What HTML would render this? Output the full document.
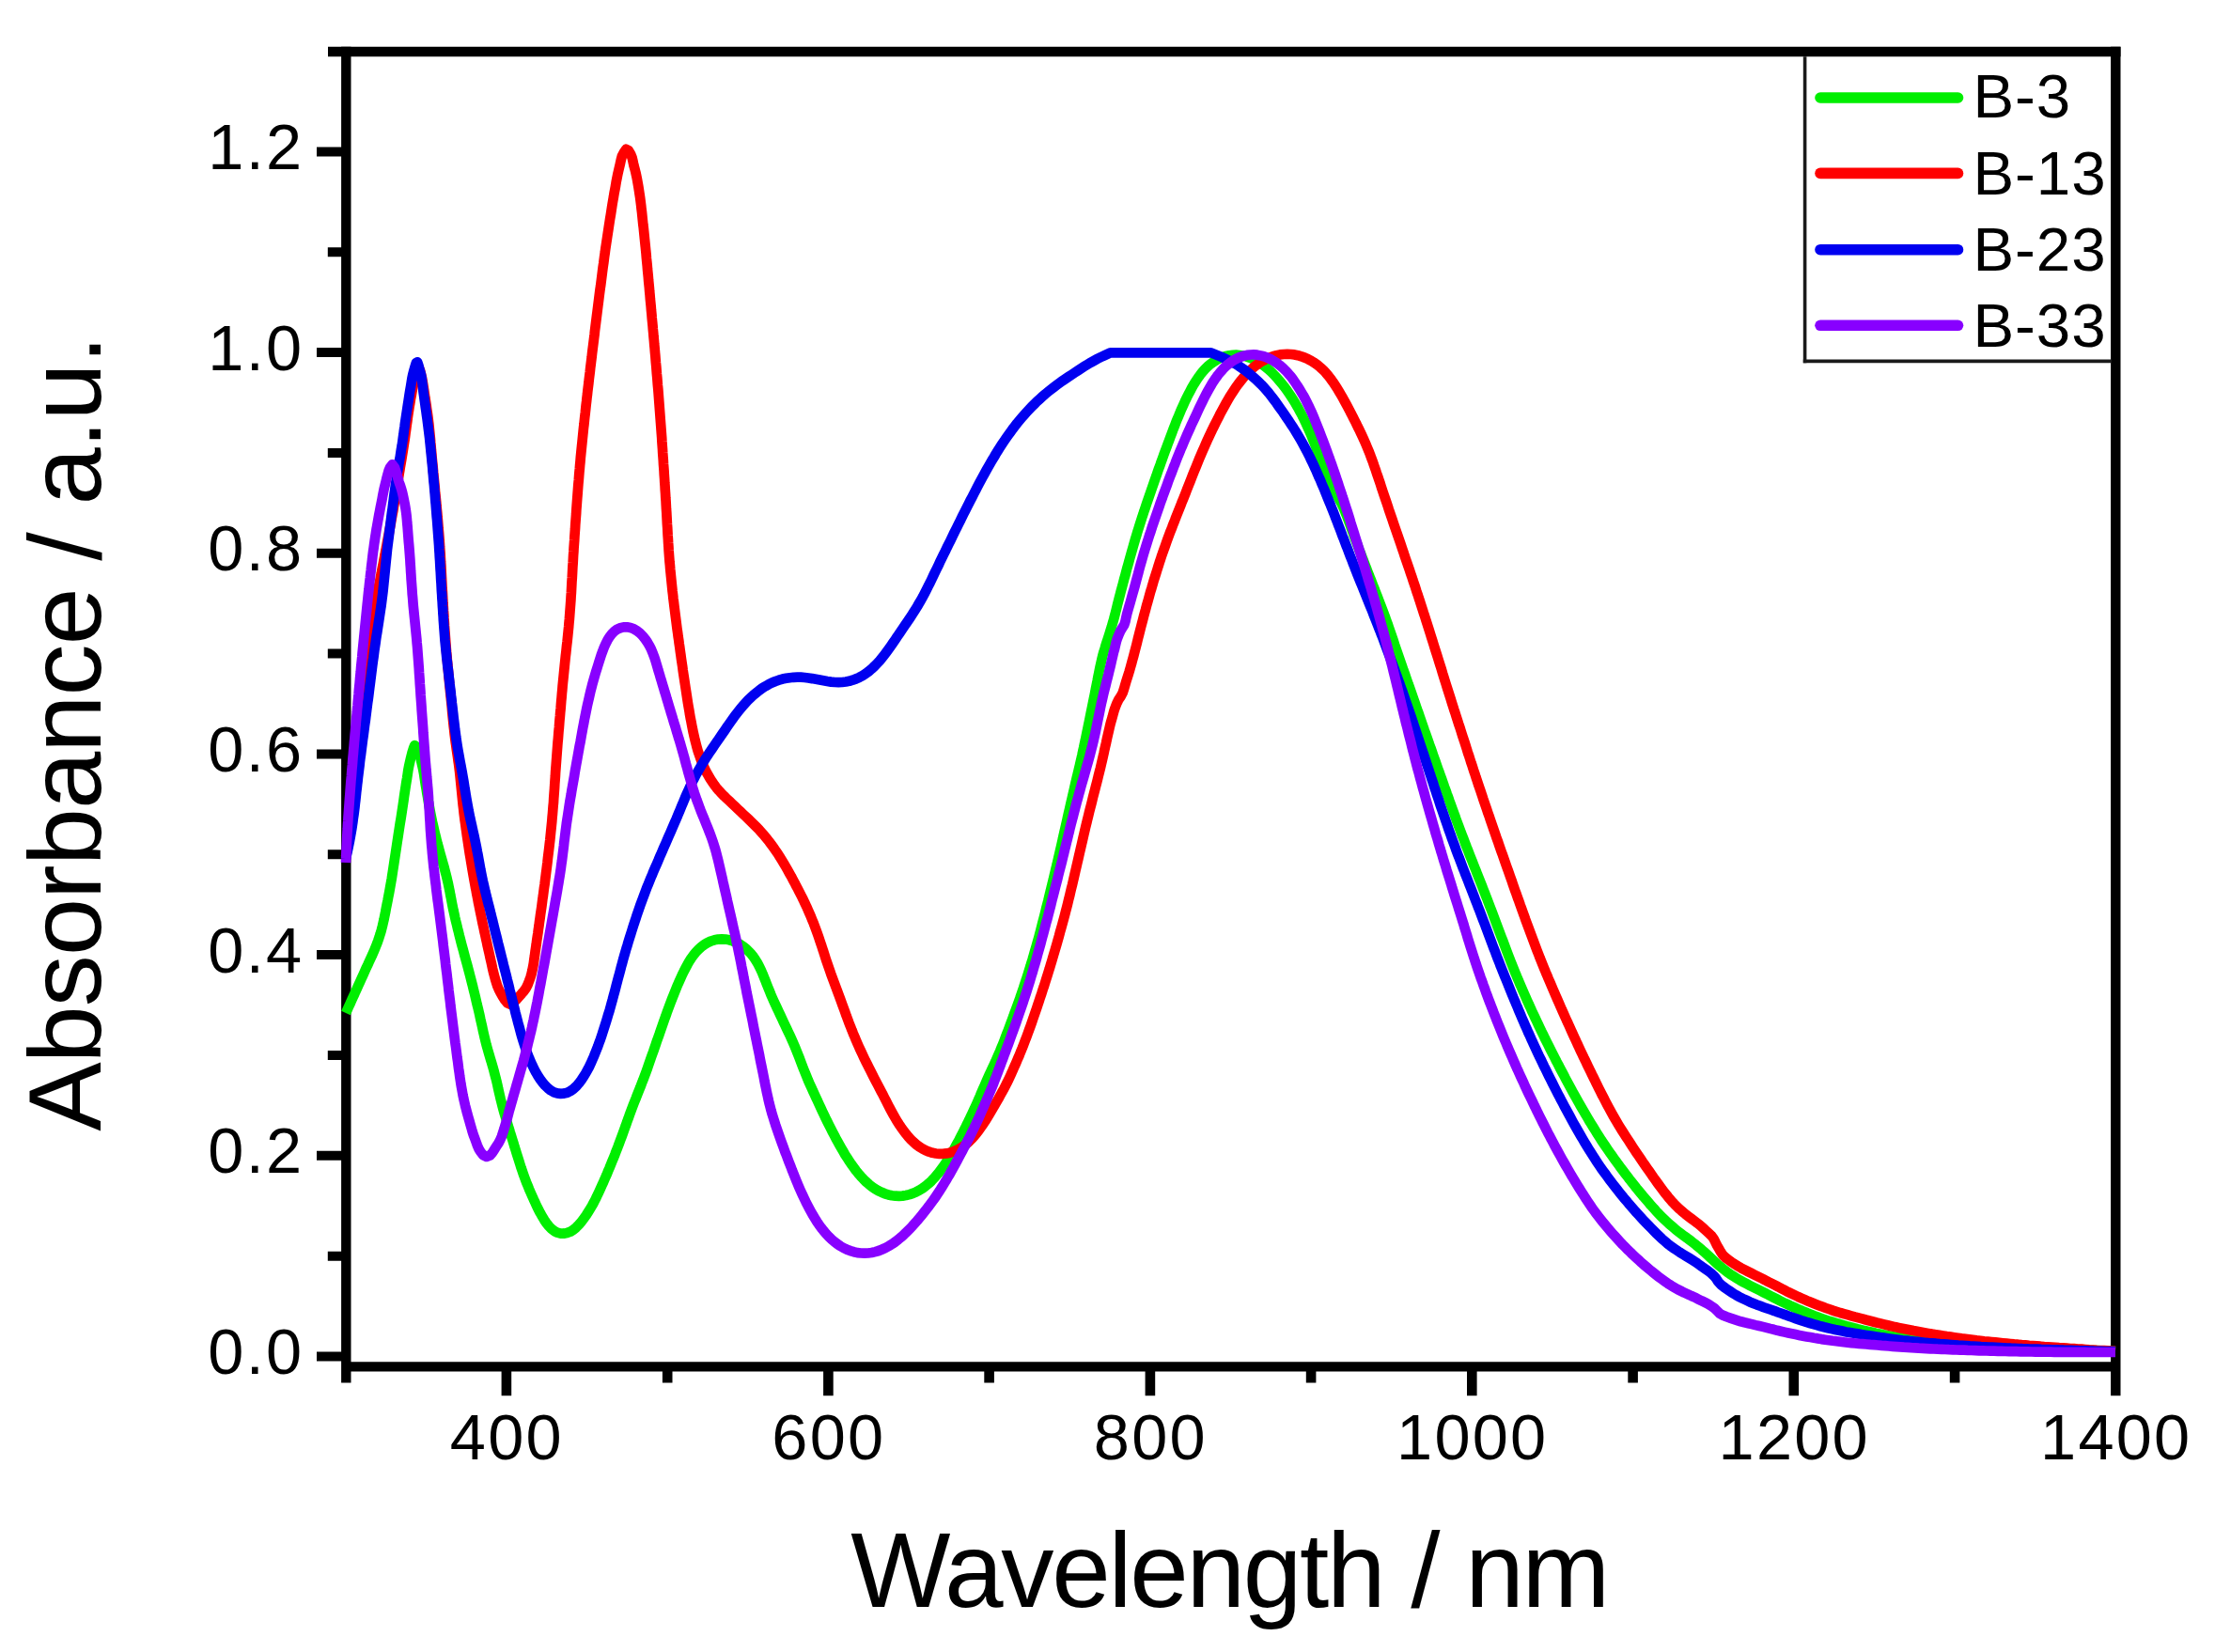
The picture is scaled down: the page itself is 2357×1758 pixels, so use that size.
<!DOCTYPE html>
<html lang="en"><head><meta charset="utf-8"><title>Absorbance spectra</title>
<style>html,body{margin:0;padding:0;background:#fff}svg{display:block}text{font-family:"Liberation Sans",Arial,Helvetica,sans-serif;fill:#000}</style></head><body>
<svg width="2357" height="1758" viewBox="0 0 2357 1758">
<rect width="2357" height="1758" fill="#fff"/>
<g stroke="#000" stroke-width="10.4" fill="none" stroke-linecap="butt">
<path d="M368.3 49.8 V1471.6"/>
<path d="M2251.3 49.8 V1485.3"/>
<path d="M349.0 55.0 H2256.5"/>
<path d="M368.3 1454.4 H2251.3"/>
<path d="M337.0 1443.5H368.3M348.8 1336.7H368.3M337.0 1229.8H368.3M348.8 1123.0H368.3M337.0 1016.1H368.3M348.8 909.3H368.3M337.0 802.5H368.3M348.8 695.6H368.3M337.0 588.8H368.3M348.8 481.9H368.3M337.0 375.1H368.3M348.8 268.3H368.3M337.0 161.4H368.3" stroke-width="10"/>
<path d="M538.9 1454.4V1485.3M710.2 1454.4V1471.6M881.4 1454.4V1485.3M1052.6 1454.4V1471.6M1223.9 1454.4V1485.3M1395.1 1454.4V1471.6M1566.3 1454.4V1485.3M1737.6 1454.4V1471.6M1908.8 1454.4V1485.3M2080.1 1454.4V1471.6" stroke-width="10.6"/>
</g>
<g fill="none" stroke-width="10.7" stroke-linejoin="round" stroke-linecap="butt">
<path stroke="#00ee00" d="M368.0 1078.0L369.7 1074.4L371.3 1070.7L373.0 1067.1L374.6 1063.4L376.3 1059.8L377.9 1056.1L379.6 1052.5L381.2 1048.9L382.9 1045.2L384.5 1041.6L386.2 1037.9L387.8 1034.3L389.5 1030.6L391.2 1027.0L392.8 1023.4L394.5 1019.7L396.2 1016.1L397.8 1012.4L399.3 1008.7L400.8 1005.0L402.2 1001.3L403.5 997.5L404.7 993.7L405.8 989.9L406.8 986.0L407.7 982.1L408.6 978.2L409.4 974.2L410.2 970.3L410.9 966.4L411.7 962.4L412.5 958.5L413.2 954.6L414.0 950.6L414.7 946.7L415.4 942.8L416.1 938.8L416.8 934.9L417.4 930.9L418.0 927.0L418.6 923.0L419.2 919.1L419.8 915.1L420.4 911.2L421.0 907.2L421.6 903.2L422.2 899.3L422.8 895.3L423.4 891.4L424.0 887.4L424.6 883.5L425.2 879.5L425.8 875.6L426.5 871.6L427.1 867.7L427.7 863.7L428.3 859.8L428.9 855.8L429.5 851.8L430.0 847.9L430.6 843.9L431.2 840.0L431.8 836.0L432.4 832.1L433.1 828.1L433.7 824.0L434.3 819.7L435.1 815.6L435.9 811.9L436.7 808.3L437.7 804.3L438.7 800.3L439.9 796.5L441.2 793.2L443.9 795.4L446.1 800.3L446.9 804.2L447.8 808.0L448.6 811.6L449.4 815.2L450.3 819.2L451.1 823.6L451.7 827.8L452.3 831.7L452.9 835.6L453.6 839.5L454.2 843.5L454.9 847.4L455.6 851.4L456.2 855.3L457.0 859.3L457.7 863.2L458.5 867.1L459.3 871.0L460.1 874.9L461.0 878.8L461.9 882.7L462.8 886.6L463.8 890.5L464.7 894.4L465.7 898.3L466.8 902.1L467.8 906.0L468.9 909.9L470.0 913.7L471.1 917.6L472.2 921.4L473.2 925.3L474.2 929.1L475.2 933.0L476.1 936.9L477.0 940.8L477.8 944.7L478.6 948.6L479.3 952.6L480.1 956.5L480.8 960.4L481.6 964.4L482.4 968.3L483.3 972.2L484.1 976.1L485.0 980.0L486.0 983.9L486.9 987.8L487.9 991.6L488.8 995.5L489.8 999.4L490.8 1003.3L491.8 1007.1L492.9 1011.0L493.9 1014.9L494.9 1018.7L496.0 1022.6L497.1 1026.5L498.1 1030.3L499.1 1034.2L500.1 1038.0L501.1 1041.9L502.1 1045.8L503.1 1049.7L504.0 1053.6L505.0 1057.5L505.9 1061.3L506.8 1065.2L507.7 1069.1L508.7 1073.0L509.6 1076.9L510.5 1080.8L511.3 1084.7L512.2 1088.6L513.1 1092.5L513.9 1096.5L514.8 1100.4L515.7 1104.3L516.6 1108.1L517.6 1112.0L518.7 1115.9L519.8 1119.7L520.9 1123.5L522.0 1127.4L523.2 1131.2L524.3 1135.0L525.4 1138.9L526.4 1142.8L527.4 1146.6L528.4 1150.5L529.3 1154.4L530.1 1158.3L531.0 1162.2L531.9 1166.1L532.8 1170.0L533.8 1173.9L534.8 1177.8L535.8 1181.6L536.9 1185.5L538.1 1189.3L539.2 1193.1L540.4 1197.0L541.6 1200.8L542.7 1204.6L543.9 1208.4L545.1 1212.3L546.3 1216.1L547.4 1219.9L548.6 1223.7L549.8 1227.6L551.0 1231.4L552.2 1235.2L553.4 1239.0L554.6 1242.8L555.9 1246.6L557.2 1250.4L558.6 1254.1L560.0 1257.9L561.5 1261.6L563.0 1265.3L564.6 1269.0L566.2 1272.6L567.8 1276.2L569.5 1279.8L571.1 1283.4L572.9 1287.0L574.8 1290.7L576.9 1294.4L579.1 1298.1L581.5 1301.6L584.1 1304.9L586.9 1307.8L589.9 1310.1L593.1 1311.7L596.5 1312.6L599.9 1312.7L603.3 1312.1L606.7 1310.8L609.9 1308.9L613.0 1306.3L616.0 1303.3L618.7 1300.1L621.3 1296.6L623.8 1293.2L626.0 1289.7L628.1 1286.3L630.1 1282.9L632.0 1279.4L633.8 1275.9L635.5 1272.3L637.2 1268.7L638.9 1265.0L640.5 1261.4L642.2 1257.7L643.8 1254.0L645.4 1250.4L646.9 1246.7L648.5 1243.0L650.0 1239.3L651.5 1235.6L653.0 1231.9L654.5 1228.2L655.9 1224.4L657.4 1220.7L658.8 1217.0L660.2 1213.2L661.6 1209.5L663.0 1205.7L664.3 1202.0L665.7 1198.2L667.0 1194.4L668.4 1190.7L669.7 1186.9L671.1 1183.1L672.5 1179.4L673.9 1175.7L675.4 1171.9L676.9 1168.2L678.3 1164.5L679.8 1160.8L681.3 1157.1L682.7 1153.3L684.2 1149.6L685.6 1145.9L687.0 1142.1L688.4 1138.4L689.7 1134.6L691.0 1130.8L692.3 1127.0L693.6 1123.3L695.0 1119.5L696.3 1115.7L697.6 1111.9L698.9 1108.1L700.2 1104.4L701.6 1100.6L702.9 1096.8L704.2 1093.0L705.5 1089.3L706.8 1085.5L708.2 1081.7L709.5 1077.9L710.9 1074.2L712.3 1070.4L713.7 1066.7L715.1 1063.0L716.6 1059.2L718.1 1055.5L719.6 1051.8L721.1 1048.1L722.7 1044.5L724.4 1040.8L726.0 1037.2L727.8 1033.5L729.6 1030.0L731.5 1026.4L733.5 1022.9L735.7 1019.5L738.0 1016.3L740.6 1013.1L743.4 1010.2L746.4 1007.5L749.6 1005.1L752.9 1003.1L756.5 1001.5L760.3 1000.3L764.1 999.6L768.1 999.4L772.0 999.6L776.0 1000.3L779.8 1001.4L783.6 1002.9L787.1 1004.8L790.5 1007.0L793.7 1009.5L796.7 1012.3L799.4 1015.2L801.9 1018.4L804.1 1021.7L806.2 1025.1L808.0 1028.7L809.8 1032.3L811.4 1036.0L812.9 1039.7L814.4 1043.4L815.8 1047.1L817.3 1050.9L818.8 1054.6L820.3 1058.3L821.9 1062.0L823.5 1065.6L825.2 1069.3L826.9 1072.9L828.6 1076.5L830.3 1080.1L832.0 1083.7L833.7 1087.4L835.4 1091.0L837.1 1094.6L838.8 1098.2L840.5 1101.8L842.2 1105.5L843.8 1109.1L845.4 1112.8L846.9 1116.5L848.4 1120.2L849.9 1123.9L851.3 1127.7L852.7 1131.4L854.1 1135.1L855.6 1138.9L857.1 1142.6L858.6 1146.3L860.1 1150.0L861.7 1153.6L863.4 1157.3L865.0 1160.9L866.7 1164.5L868.4 1168.2L870.1 1171.8L871.7 1175.4L873.4 1179.1L875.1 1182.7L876.8 1186.3L878.5 1189.9L880.3 1193.5L882.1 1197.1L883.9 1200.7L885.7 1204.2L887.6 1207.8L889.4 1211.3L891.4 1214.9L893.3 1218.4L895.3 1221.9L897.3 1225.3L899.3 1228.8L901.5 1232.2L903.7 1235.6L905.9 1238.9L908.3 1242.2L910.7 1245.5L913.3 1248.7L916.0 1251.8L918.7 1254.7L921.6 1257.6L924.7 1260.3L927.8 1262.8L931.1 1265.1L934.5 1267.1L938.0 1268.8L941.6 1270.3L945.3 1271.4L949.1 1272.2L952.8 1272.7L956.6 1272.8L960.4 1272.6L964.1 1272.0L967.9 1271.1L971.5 1269.9L975.1 1268.3L978.5 1266.5L981.9 1264.4L985.1 1262.0L988.2 1259.4L991.2 1256.7L994.0 1253.7L996.7 1250.6L999.3 1247.5L1001.7 1244.2L1004.1 1240.9L1006.4 1237.6L1008.5 1234.2L1010.7 1230.7L1012.7 1227.3L1014.7 1223.8L1016.6 1220.3L1018.6 1216.7L1020.5 1213.2L1022.3 1209.6L1024.2 1206.1L1026.0 1202.5L1027.8 1198.9L1029.5 1195.3L1031.3 1191.7L1033.0 1188.1L1034.7 1184.5L1036.4 1180.9L1038.1 1177.2L1039.7 1173.6L1041.3 1169.9L1042.9 1166.3L1044.4 1162.6L1046.0 1158.9L1047.6 1155.3L1049.2 1151.6L1050.8 1148.0L1052.4 1144.3L1054.1 1140.7L1055.8 1137.1L1057.5 1133.4L1059.2 1129.8L1060.8 1126.1L1062.4 1122.5L1064.0 1118.8L1065.5 1115.1L1067.0 1111.4L1068.5 1107.6L1069.9 1103.9L1071.3 1100.2L1072.8 1096.4L1074.2 1092.7L1075.6 1088.9L1077.0 1085.2L1078.4 1081.4L1079.7 1077.6L1081.1 1073.9L1082.5 1070.1L1083.8 1066.4L1085.2 1062.6L1086.5 1058.8L1087.8 1055.0L1089.1 1051.2L1090.3 1047.4L1091.6 1043.6L1092.8 1039.8L1094.0 1036.0L1095.2 1032.2L1096.4 1028.4L1097.5 1024.6L1098.7 1020.8L1099.8 1016.9L1100.9 1013.1L1102.0 1009.3L1103.1 1005.4L1104.2 1001.6L1105.3 997.7L1106.3 993.9L1107.3 990.0L1108.3 986.1L1109.3 982.2L1110.3 978.4L1111.3 974.5L1112.3 970.6L1113.2 966.7L1114.2 962.8L1115.2 959.0L1116.1 955.1L1117.1 951.2L1118.0 947.3L1119.0 943.4L1119.9 939.5L1120.9 935.7L1121.8 931.8L1122.7 927.9L1123.6 924.0L1124.6 920.1L1125.5 916.2L1126.4 912.3L1127.3 908.4L1128.2 904.5L1129.1 900.6L1130.0 896.7L1130.9 892.8L1131.7 888.9L1132.6 885.0L1133.5 881.1L1134.4 877.2L1135.3 873.3L1136.1 869.4L1137.0 865.5L1137.9 861.6L1138.8 857.7L1139.7 853.8L1140.6 849.9L1141.5 846.0L1142.4 842.1L1143.3 838.2L1144.2 834.3L1145.1 830.4L1146.0 826.5L1147.0 822.6L1147.9 818.7L1148.8 814.9L1149.7 811.0L1150.6 807.1L1151.5 803.2L1152.3 799.3L1153.2 795.4L1154.0 791.4L1154.9 787.5L1155.7 783.6L1156.5 779.7L1157.3 775.8L1158.1 771.9L1158.9 768.0L1159.7 764.0L1160.5 760.1L1161.3 756.2L1162.1 752.3L1162.9 748.4L1163.7 744.4L1164.5 740.5L1165.3 736.6L1166.0 732.7L1166.8 728.7L1167.6 724.8L1168.3 720.9L1169.1 717.0L1169.9 713.0L1170.7 709.1L1171.6 705.2L1172.5 701.3L1173.4 697.4L1174.5 693.6L1175.7 689.8L1176.8 685.9L1178.1 682.1L1179.3 678.3L1180.5 674.5L1181.7 670.7L1182.9 666.9L1184.0 663.0L1185.1 659.2L1186.1 655.3L1187.1 651.5L1188.1 647.6L1189.0 643.7L1190.0 639.8L1191.0 635.9L1192.0 632.1L1193.0 628.2L1194.1 624.3L1195.1 620.5L1196.1 616.6L1197.2 612.8L1198.2 608.9L1199.2 605.0L1200.3 601.2L1201.4 597.3L1202.4 593.5L1203.5 589.6L1204.6 585.8L1205.7 581.9L1206.8 578.1L1207.9 574.2L1209.1 570.4L1210.2 566.6L1211.4 562.7L1212.6 558.9L1213.8 555.1L1215.0 551.3L1216.3 547.5L1217.5 543.7L1218.8 539.9L1220.1 536.1L1221.4 532.3L1222.7 528.5L1224.0 524.8L1225.3 521.0L1226.6 517.2L1227.9 513.4L1229.2 509.7L1230.6 505.9L1231.9 502.1L1233.2 498.3L1234.6 494.6L1235.9 490.8L1237.3 487.0L1238.6 483.3L1240.0 479.5L1241.4 475.8L1242.8 472.0L1244.2 468.3L1245.6 464.5L1247.0 460.8L1248.4 457.0L1249.9 453.3L1251.3 449.5L1252.8 445.8L1254.4 442.1L1255.9 438.4L1257.5 434.7L1259.2 431.0L1260.8 427.4L1262.6 423.7L1264.4 420.0L1266.3 416.4L1268.2 412.7L1270.3 409.1L1272.5 405.6L1274.8 402.1L1277.2 398.8L1279.7 395.6L1282.4 392.6L1285.2 389.9L1288.2 387.3L1291.3 385.1L1294.5 383.1L1297.7 381.4L1301.1 380.0L1304.6 378.9L1308.1 378.2L1311.7 377.8L1315.3 377.7L1318.9 378.0L1322.5 378.5L1326.2 379.4L1329.8 380.6L1333.3 382.1L1336.8 383.9L1340.3 385.9L1343.6 388.2L1346.9 390.6L1350.0 393.3L1353.1 396.1L1356.0 399.1L1358.8 402.1L1361.5 405.3L1364.1 408.4L1366.7 411.6L1369.1 414.9L1371.4 418.2L1373.6 421.5L1375.8 424.9L1377.9 428.3L1379.9 431.7L1381.9 435.2L1383.8 438.8L1385.7 442.3L1387.5 445.9L1389.2 449.5L1390.9 453.2L1392.5 456.8L1394.1 460.5L1395.7 464.2L1397.2 467.9L1398.7 471.6L1400.2 475.3L1401.6 479.0L1403.1 482.8L1404.6 486.5L1406.0 490.2L1407.5 493.9L1408.9 497.6L1410.3 501.3L1411.7 505.1L1413.2 508.8L1414.8 512.4L1416.5 516.0L1418.3 519.5L1420.3 523.0L1422.3 526.5L1424.3 529.9L1426.2 533.4L1428.0 536.9L1429.7 540.5L1431.2 544.2L1432.7 547.9L1434.1 551.6L1435.5 555.4L1436.9 559.1L1438.2 562.9L1439.6 566.7L1440.9 570.4L1442.3 574.2L1443.7 577.9L1445.1 581.6L1446.5 585.4L1448.0 589.1L1449.4 592.8L1450.8 596.5L1452.2 600.2L1453.7 604.0L1455.1 607.7L1456.6 611.4L1458.0 615.1L1459.5 618.8L1460.9 622.5L1462.4 626.2L1463.8 630.0L1465.3 633.7L1466.7 637.4L1468.1 641.1L1469.6 644.9L1471.0 648.6L1472.4 652.4L1473.8 656.1L1475.1 659.9L1476.5 663.6L1477.8 667.4L1479.1 671.2L1480.4 675.0L1481.7 678.8L1483.0 682.6L1484.2 686.4L1485.5 690.2L1486.8 694.0L1488.1 697.8L1489.4 701.6L1490.7 705.3L1492.0 709.1L1493.3 712.9L1494.7 716.6L1496.0 720.4L1497.3 724.2L1498.6 728.0L1500.0 731.7L1501.3 735.5L1502.6 739.3L1503.9 743.0L1505.2 746.8L1506.5 750.6L1507.8 754.4L1509.2 758.1L1510.5 761.9L1511.8 765.7L1513.1 769.4L1514.4 773.2L1515.7 777.0L1517.1 780.8L1518.4 784.5L1519.7 788.3L1521.0 792.1L1522.4 795.8L1523.7 799.6L1525.0 803.4L1526.3 807.1L1527.7 810.9L1529.0 814.7L1530.3 818.4L1531.7 822.2L1533.0 826.0L1534.4 829.7L1535.7 833.5L1537.0 837.3L1538.4 841.0L1539.7 844.8L1541.1 848.5L1542.4 852.3L1543.8 856.1L1545.1 859.8L1546.5 863.6L1547.9 867.3L1549.2 871.1L1550.6 874.8L1552.0 878.6L1553.4 882.3L1554.8 886.1L1556.2 889.8L1557.7 893.5L1559.1 897.3L1560.5 901.0L1562.0 904.7L1563.4 908.5L1564.9 912.2L1566.4 915.9L1567.8 919.6L1569.3 923.4L1570.8 927.1L1572.2 930.8L1573.7 934.5L1575.2 938.2L1576.7 942.0L1578.1 945.7L1579.6 949.4L1581.0 953.1L1582.5 956.9L1583.9 960.6L1585.3 964.3L1586.8 968.1L1588.2 971.8L1589.6 975.6L1591.0 979.3L1592.4 983.1L1593.8 986.8L1595.2 990.6L1596.6 994.3L1598.0 998.1L1599.5 1001.8L1600.9 1005.6L1602.3 1009.3L1603.7 1013.1L1605.1 1016.8L1606.6 1020.6L1608.0 1024.3L1609.5 1028.0L1611.0 1031.7L1612.5 1035.4L1614.0 1039.1L1615.6 1042.8L1617.1 1046.5L1618.7 1050.1L1620.3 1053.8L1621.9 1057.5L1623.5 1061.1L1625.1 1064.8L1626.7 1068.4L1628.4 1072.0L1630.0 1075.7L1631.7 1079.3L1633.4 1082.9L1635.1 1086.5L1636.8 1090.1L1638.5 1093.7L1640.2 1097.3L1642.0 1100.9L1643.7 1104.5L1645.5 1108.1L1647.3 1111.7L1649.1 1115.2L1650.9 1118.8L1652.7 1122.4L1654.5 1125.9L1656.3 1129.5L1658.2 1133.0L1660.0 1136.6L1661.9 1140.1L1663.8 1143.6L1665.6 1147.2L1667.5 1150.7L1669.4 1154.2L1671.3 1157.7L1673.2 1161.3L1675.2 1164.8L1677.1 1168.3L1679.1 1171.8L1681.0 1175.3L1683.0 1178.7L1685.0 1182.2L1687.1 1185.7L1689.1 1189.1L1691.1 1192.6L1693.2 1196.0L1695.3 1199.4L1697.4 1202.8L1699.5 1206.2L1701.7 1209.6L1703.8 1213.0L1706.0 1216.3L1708.3 1219.6L1710.5 1222.9L1712.8 1226.2L1715.1 1229.4L1717.4 1232.7L1719.7 1235.9L1722.1 1239.1L1724.4 1242.3L1726.8 1245.5L1729.2 1248.7L1731.6 1251.8L1734.0 1255.0L1736.5 1258.1L1739.0 1261.3L1741.4 1264.4L1744.0 1267.5L1746.5 1270.5L1749.0 1273.6L1751.6 1276.6L1754.2 1279.6L1756.8 1282.7L1759.5 1285.6L1762.1 1288.6L1764.9 1291.5L1767.6 1294.4L1770.5 1297.2L1773.4 1299.9L1776.3 1302.6L1779.4 1305.2L1782.4 1307.8L1785.5 1310.3L1788.7 1312.8L1791.9 1315.2L1795.2 1317.5L1798.4 1319.9L1801.6 1322.4L1804.7 1324.8L1807.8 1327.4L1810.8 1329.9L1813.8 1332.6L1816.8 1335.3L1819.7 1338.0L1822.6 1340.7L1825.6 1343.4L1828.5 1346.1L1831.6 1348.7L1834.7 1351.2L1837.8 1353.6L1841.1 1355.9L1844.5 1358.1L1847.9 1360.2L1851.3 1362.3L1854.8 1364.2L1858.4 1366.1L1861.9 1367.9L1865.5 1369.7L1869.1 1371.5L1872.7 1373.3L1876.3 1375.1L1879.9 1376.9L1883.4 1378.8L1887.0 1380.6L1890.6 1382.4L1894.1 1384.2L1897.7 1386.0L1901.3 1387.7L1904.9 1389.4L1908.5 1391.0L1912.2 1392.7L1915.9 1394.2L1919.5 1395.8L1923.2 1397.3L1926.9 1398.7L1930.7 1400.2L1934.4 1401.5L1938.2 1402.9L1941.9 1404.2L1945.7 1405.5L1949.5 1406.7L1953.4 1407.9L1957.2 1409.0L1961.1 1410.1L1964.9 1411.2L1968.8 1412.2L1972.7 1413.2L1976.5 1414.2L1980.4 1415.1L1984.3 1416.1L1988.2 1416.9L1992.1 1417.8L1996.0 1418.7L1999.9 1419.5L2003.8 1420.3L2007.7 1421.0L2011.6 1421.7L2015.6 1422.4L2019.5 1423.1L2023.4 1423.8L2027.4 1424.4L2031.3 1425.0L2035.3 1425.5L2039.2 1426.1L2043.2 1426.6L2047.1 1427.1L2051.1 1427.5L2055.1 1427.9L2059.1 1428.4L2063.1 1428.8L2067.0 1429.1L2071.0 1429.5L2075.0 1429.8L2079.0 1430.1L2083.0 1430.4L2087.0 1430.7L2091.0 1431.0L2095.0 1431.2L2099.0 1431.4L2103.0 1431.7L2107.0 1431.9L2111.0 1432.1L2115.0 1432.3L2119.0 1432.5L2123.0 1432.7L2127.1 1432.8L2131.1 1433.0L2135.1 1433.2L2139.1 1433.4L2143.1 1433.5L2147.1 1433.7L2151.1 1433.9L2155.1 1434.0L2159.1 1434.2L2163.1 1434.4L2167.1 1434.6L2171.1 1434.7L2175.1 1434.9L2179.1 1435.1L2183.0 1435.2L2187.0 1435.4L2191.0 1435.6L2195.0 1435.8L2199.0 1435.9L2203.0 1436.1L2207.0 1436.2L2211.0 1436.4L2215.0 1436.6L2219.0 1436.7L2223.0 1436.9L2227.0 1437.1L2231.0 1437.2L2235.0 1437.4L2239.0 1437.5L2243.0 1437.7L2247.0 1437.8L2251.0 1438.0"/>
<path stroke="#ff0000" d="M368.0 912.0L368.7 908.1L369.3 904.1L369.9 900.1L370.6 896.2L371.2 892.2L371.7 888.3L372.3 884.3L372.8 880.4L373.3 876.4L373.8 872.4L374.2 868.4L374.6 864.5L375.0 860.5L375.4 856.5L375.8 852.5L376.2 848.5L376.6 844.5L376.9 840.6L377.3 836.6L377.7 832.6L378.1 828.6L378.4 824.6L378.8 820.7L379.2 816.7L379.6 812.7L380.0 808.7L380.4 804.7L380.9 800.8L381.3 796.8L381.7 792.8L382.1 788.8L382.6 784.8L383.0 780.9L383.4 776.9L383.8 772.9L384.2 768.9L384.7 765.0L385.1 761.0L385.5 757.0L386.0 753.0L386.4 749.0L386.8 745.1L387.3 741.1L387.7 737.1L388.1 733.1L388.6 729.2L389.0 725.2L389.5 721.2L389.9 717.2L390.4 713.3L390.8 709.3L391.3 705.3L391.8 701.3L392.2 697.4L392.7 693.4L393.2 689.4L393.6 685.4L394.1 681.5L394.6 677.5L395.1 673.5L395.6 669.6L396.2 665.6L396.7 661.6L397.3 657.7L397.9 653.7L398.5 649.8L399.2 645.8L399.8 641.9L400.5 637.9L401.2 634.0L401.9 630.1L402.7 626.1L403.4 622.2L404.2 618.3L404.9 614.3L405.7 610.4L406.4 606.5L407.2 602.6L408.0 598.6L408.7 594.7L409.5 590.8L410.2 586.8L411.0 582.9L411.7 579.0L412.4 575.0L413.2 571.1L413.9 567.2L414.6 563.2L415.4 559.3L416.1 555.4L416.8 551.4L417.5 547.5L418.3 543.6L418.9 539.6L419.6 535.7L420.3 531.7L420.9 527.8L421.6 523.8L422.2 519.9L422.8 515.9L423.5 512.0L424.1 508.0L424.7 504.1L425.4 500.1L426.0 496.2L426.7 492.3L427.4 488.3L428.0 484.4L428.7 480.4L429.3 476.5L429.9 472.5L430.5 468.6L431.1 464.6L431.6 460.6L432.2 456.7L432.7 452.7L433.3 448.8L433.8 444.8L434.4 440.8L435.0 436.9L435.6 432.9L436.3 429.0L436.9 425.1L437.7 421.0L438.4 416.9L439.1 413.0L439.9 409.3L440.7 405.4L441.7 401.5L442.9 397.5L444.3 393.0L445.6 391.0L447.1 394.5L448.3 399.4L449.2 403.3L449.9 407.3L450.5 411.1L451.1 414.9L451.7 418.9L452.3 423.0L453.0 427.1L453.6 431.0L454.1 434.9L454.7 438.9L455.3 442.8L455.8 446.8L456.3 450.8L456.7 454.7L457.1 458.7L457.5 462.7L457.9 466.7L458.2 470.7L458.6 474.7L458.9 478.6L459.3 482.6L459.6 486.6L460.0 490.6L460.4 494.6L460.8 498.6L461.1 502.5L461.5 506.5L461.9 510.5L462.3 514.5L462.7 518.5L463.0 522.5L463.4 526.4L463.8 530.4L464.2 534.4L464.5 538.4L464.9 542.4L465.3 546.4L465.6 550.3L466.0 554.3L466.3 558.3L466.6 562.3L467.0 566.3L467.3 570.3L467.6 574.3L467.9 578.3L468.1 582.2L468.4 586.2L468.7 590.2L468.9 594.2L469.1 598.2L469.4 602.2L469.6 606.2L469.8 610.2L470.0 614.2L470.2 618.2L470.4 622.2L470.6 626.2L470.9 630.2L471.1 634.2L471.3 638.2L471.5 642.2L471.8 646.2L472.0 650.1L472.3 654.1L472.5 658.1L472.8 662.1L473.0 666.1L473.3 670.1L473.6 674.1L473.9 678.1L474.2 682.1L474.5 686.1L474.8 690.1L475.1 694.0L475.5 698.0L475.8 702.0L476.2 706.0L476.6 710.0L477.0 714.0L477.3 717.9L477.7 721.9L478.1 725.9L478.5 729.9L478.9 733.9L479.3 737.9L479.7 741.8L480.1 745.8L480.5 749.8L480.9 753.8L481.2 757.8L481.6 761.7L482.0 765.7L482.4 769.7L482.8 773.7L483.3 777.7L483.7 781.6L484.2 785.6L484.7 789.6L485.3 793.5L485.8 797.5L486.4 801.5L487.0 805.4L487.5 809.4L488.1 813.3L488.6 817.3L489.1 821.3L489.5 825.2L489.9 829.2L490.3 833.2L490.7 837.2L491.1 841.2L491.5 845.2L491.9 849.1L492.3 853.1L492.7 857.1L493.2 861.1L493.6 865.0L494.1 869.0L494.6 873.0L495.2 876.9L495.7 880.9L496.3 884.9L496.8 888.8L497.4 892.8L498.0 896.7L498.6 900.7L499.2 904.7L499.8 908.6L500.5 912.6L501.1 916.5L501.8 920.5L502.4 924.4L503.1 928.3L503.8 932.3L504.5 936.2L505.2 940.2L505.9 944.1L506.7 948.0L507.4 952.0L508.2 955.9L508.9 959.8L509.7 963.7L510.5 967.7L511.3 971.6L512.1 975.5L512.9 979.4L513.7 983.3L514.6 987.2L515.4 991.2L516.3 995.1L517.1 999.0L518.0 1002.9L518.8 1006.8L519.7 1010.7L520.6 1014.6L521.4 1018.5L522.3 1022.4L523.2 1026.3L524.0 1030.2L524.9 1034.1L525.9 1038.0L527.0 1042.0L528.2 1046.1L529.5 1049.9L531.0 1053.3L532.7 1056.7L534.8 1060.4L537.3 1064.3L540.0 1067.4L542.9 1068.8L546.0 1067.4L549.2 1064.1L552.2 1060.7L555.0 1057.6L557.5 1054.7L559.7 1051.6L561.5 1048.0L563.0 1044.1L564.4 1040.2L565.5 1036.4L566.4 1032.6L567.2 1028.7L567.9 1024.7L568.4 1020.8L569.0 1016.8L569.5 1012.8L570.1 1008.8L570.7 1004.9L571.2 1000.9L571.8 996.9L572.4 993.0L572.9 989.0L573.5 985.1L574.0 981.1L574.6 977.1L575.1 973.2L575.7 969.2L576.3 965.2L576.8 961.3L577.3 957.3L577.9 953.4L578.4 949.4L578.9 945.4L579.5 941.5L580.0 937.5L580.5 933.5L581.0 929.5L581.5 925.6L582.0 921.6L582.5 917.6L582.9 913.7L583.4 909.7L583.9 905.7L584.4 901.7L584.8 897.8L585.3 893.8L585.7 889.8L586.1 885.8L586.5 881.9L586.9 877.9L587.3 873.9L587.6 869.9L588.0 865.9L588.3 861.9L588.6 858.0L589.0 854.0L589.2 850.0L589.5 846.0L589.8 842.0L590.1 838.0L590.3 834.0L590.6 830.0L590.9 826.0L591.1 822.0L591.4 818.0L591.7 814.1L592.0 810.1L592.3 806.1L592.6 802.1L592.9 798.1L593.2 794.1L593.5 790.1L593.9 786.1L594.2 782.1L594.5 778.2L594.9 774.2L595.2 770.2L595.5 766.2L595.9 762.2L596.2 758.2L596.6 754.2L596.9 750.3L597.2 746.3L597.6 742.3L597.9 738.3L598.3 734.3L598.6 730.3L599.0 726.3L599.4 722.4L599.8 718.4L600.2 714.4L600.6 710.4L601.0 706.4L601.4 702.5L601.8 698.5L602.3 694.5L602.7 690.5L603.1 686.6L603.6 682.6L604.0 678.6L604.4 674.6L604.8 670.6L605.2 666.7L605.5 662.7L605.9 658.7L606.2 654.7L606.5 650.7L606.8 646.7L607.1 642.7L607.4 638.7L607.6 634.7L607.9 630.8L608.1 626.8L608.3 622.8L608.5 618.8L608.8 614.8L609.0 610.8L609.2 606.8L609.4 602.8L609.7 598.8L609.9 594.8L610.1 590.8L610.4 586.8L610.6 582.8L610.9 578.8L611.2 574.8L611.4 570.9L611.7 566.9L612.0 562.9L612.2 558.9L612.5 554.9L612.8 550.9L613.1 546.9L613.3 542.9L613.6 538.9L613.9 534.9L614.2 530.9L614.5 527.0L614.8 523.0L615.1 519.0L615.4 515.0L615.8 511.0L616.1 507.0L616.4 503.0L616.8 499.0L617.1 495.1L617.5 491.1L617.8 487.1L618.2 483.1L618.6 479.1L619.0 475.1L619.4 471.2L619.8 467.2L620.2 463.2L620.6 459.2L621.0 455.2L621.5 451.3L621.9 447.3L622.3 443.3L622.8 439.3L623.2 435.4L623.6 431.4L624.1 427.4L624.5 423.4L625.0 419.5L625.4 415.5L625.9 411.5L626.4 407.5L626.8 403.6L627.3 399.6L627.8 395.6L628.2 391.6L628.7 387.7L629.2 383.7L629.7 379.7L630.1 375.7L630.6 371.8L631.1 367.8L631.6 363.8L632.1 359.9L632.6 355.9L633.0 351.9L633.5 348.0L634.0 344.0L634.5 340.0L635.0 336.0L635.5 332.1L636.0 328.1L636.5 324.1L637.0 320.2L637.5 316.2L638.0 312.2L638.5 308.3L639.1 304.3L639.6 300.3L640.1 296.4L640.6 292.4L641.1 288.4L641.6 284.5L642.2 280.5L642.7 276.5L643.2 272.6L643.8 268.6L644.3 264.6L644.9 260.7L645.5 256.7L646.1 252.8L646.7 248.8L647.3 244.9L647.9 240.9L648.5 237.0L649.1 233.0L649.8 229.0L650.4 225.1L651.0 221.1L651.6 217.2L652.3 213.2L653.0 209.3L653.6 205.4L654.4 201.4L655.1 197.5L655.7 193.6L656.5 189.6L657.3 185.5L658.2 181.6L659.1 177.8L660.0 174.0L660.8 170.1L661.8 166.3L663.8 162.5L666.2 158.8L668.7 160.0L671.1 164.0L672.6 167.8L673.5 171.6L674.3 175.5L675.3 179.2L676.3 183.0L677.2 187.0L678.0 191.1L678.7 195.0L679.4 199.0L680.0 202.9L680.6 206.9L681.2 210.8L681.7 214.8L682.2 218.8L682.6 222.7L683.1 226.7L683.5 230.7L683.9 234.7L684.3 238.7L684.8 242.6L685.2 246.6L685.6 250.6L686.0 254.6L686.4 258.6L686.8 262.5L687.2 266.5L687.6 270.5L687.9 274.5L688.3 278.5L688.7 282.4L689.0 286.4L689.4 290.4L689.8 294.4L690.1 298.4L690.5 302.4L690.9 306.3L691.2 310.3L691.6 314.3L691.9 318.3L692.3 322.3L692.7 326.3L693.0 330.3L693.4 334.2L693.7 338.2L694.1 342.2L694.5 346.2L694.8 350.2L695.2 354.2L695.5 358.1L695.9 362.1L696.2 366.1L696.6 370.1L696.9 374.1L697.3 378.1L697.6 382.1L697.9 386.0L698.3 390.0L698.6 394.0L698.9 398.0L699.3 402.0L699.6 406.0L699.9 410.0L700.3 414.0L700.6 417.9L700.9 421.9L701.2 425.9L701.5 429.9L701.8 433.9L702.1 437.9L702.4 441.9L702.7 445.9L703.0 449.8L703.3 453.8L703.6 457.8L703.9 461.8L704.2 465.8L704.4 469.8L704.7 473.8L705.0 477.8L705.2 481.8L705.5 485.8L705.8 489.8L706.0 493.8L706.3 497.7L706.6 501.7L706.8 505.7L707.1 509.7L707.3 513.7L707.6 517.7L707.8 521.7L708.1 525.7L708.3 529.7L708.6 533.7L708.8 537.7L709.0 541.7L709.3 545.7L709.5 549.7L709.7 553.6L709.9 557.6L710.2 561.6L710.4 565.6L710.6 569.6L710.9 573.6L711.1 577.6L711.4 581.6L711.6 585.6L711.9 589.6L712.2 593.6L712.5 597.6L712.9 601.5L713.2 605.5L713.6 609.5L714.0 613.5L714.4 617.5L714.8 621.5L715.2 625.4L715.6 629.4L716.1 633.4L716.5 637.4L717.0 641.3L717.5 645.3L718.0 649.3L718.5 653.3L719.0 657.2L719.5 661.2L720.0 665.2L720.5 669.1L721.1 673.1L721.6 677.1L722.2 681.0L722.7 685.0L723.3 688.9L723.8 692.9L724.4 696.9L724.9 700.8L725.5 704.8L726.1 708.7L726.6 712.7L727.2 716.7L727.8 720.6L728.4 724.6L729.0 728.5L729.6 732.5L730.2 736.4L730.8 740.4L731.4 744.4L732.0 748.3L732.7 752.3L733.4 756.2L734.0 760.1L734.7 764.1L735.5 768.0L736.2 771.9L737.0 775.9L737.8 779.8L738.7 783.7L739.6 787.6L740.6 791.5L741.6 795.3L742.7 799.2L744.0 803.0L745.3 806.8L746.7 810.5L748.2 814.2L749.9 817.9L751.6 821.5L753.6 825.0L755.6 828.5L757.8 831.9L760.1 835.2L762.5 838.4L765.1 841.4L767.8 844.3L770.6 847.2L773.5 850.0L776.4 852.7L779.3 855.5L782.2 858.2L785.1 861.0L788.0 863.7L790.9 866.5L793.8 869.2L796.8 872.0L799.7 874.8L802.5 877.6L805.3 880.4L808.1 883.3L810.8 886.3L813.4 889.3L815.9 892.4L818.4 895.5L820.8 898.7L823.1 901.9L825.4 905.2L827.7 908.5L829.8 911.8L831.9 915.2L834.0 918.7L836.0 922.1L838.0 925.6L839.9 929.1L841.9 932.6L843.8 936.2L845.7 939.7L847.5 943.3L849.4 946.8L851.2 950.4L853.0 953.9L854.8 957.5L856.5 961.1L858.2 964.7L859.8 968.4L861.4 972.0L863.0 975.7L864.5 979.4L866.0 983.1L867.4 986.8L868.8 990.6L870.1 994.3L871.4 998.1L872.7 1001.9L874.0 1005.7L875.2 1009.5L876.5 1013.3L877.7 1017.1L878.9 1021.0L880.2 1024.8L881.5 1028.6L882.8 1032.3L884.1 1036.1L885.5 1039.9L886.9 1043.6L888.3 1047.4L889.7 1051.1L891.1 1054.9L892.5 1058.6L893.9 1062.4L895.2 1066.1L896.6 1069.9L898.0 1073.6L899.4 1077.4L900.7 1081.2L902.1 1084.9L903.5 1088.7L905.0 1092.4L906.4 1096.1L907.9 1099.8L909.5 1103.5L911.0 1107.2L912.6 1110.8L914.2 1114.5L915.9 1118.1L917.6 1121.7L919.3 1125.4L921.0 1129.0L922.8 1132.5L924.6 1136.1L926.4 1139.7L928.2 1143.2L930.0 1146.8L931.9 1150.4L933.7 1153.9L935.6 1157.5L937.4 1161.0L939.3 1164.6L941.1 1168.1L943.0 1171.7L944.8 1175.3L946.6 1178.9L948.5 1182.4L950.4 1185.9L952.4 1189.4L954.5 1192.9L956.7 1196.4L959.0 1199.8L961.4 1203.1L963.9 1206.4L966.5 1209.6L969.2 1212.6L972.1 1215.4L975.2 1218.1L978.3 1220.4L981.7 1222.5L985.1 1224.3L988.6 1225.7L992.2 1226.8L995.9 1227.5L999.6 1227.9L1003.3 1227.8L1007.0 1227.4L1010.7 1226.7L1014.3 1225.5L1017.9 1224.1L1021.3 1222.2L1024.7 1220.1L1027.9 1217.6L1031.0 1214.9L1034.0 1212.0L1036.7 1208.9L1039.3 1205.8L1041.8 1202.5L1044.1 1199.2L1046.4 1195.9L1048.6 1192.5L1050.7 1189.1L1052.8 1185.7L1054.8 1182.3L1056.7 1179.0L1058.7 1175.7L1060.6 1172.4L1062.5 1169.1L1064.3 1165.8L1066.1 1162.5L1068.0 1159.2L1069.7 1155.8L1071.5 1152.3L1073.2 1148.8L1074.9 1145.2L1076.6 1141.5L1078.2 1137.8L1079.9 1134.1L1081.5 1130.3L1083.1 1126.5L1084.8 1122.7L1086.3 1118.8L1087.9 1115.0L1089.4 1111.1L1090.9 1107.2L1092.4 1103.3L1093.8 1099.5L1095.2 1095.6L1096.6 1091.8L1098.0 1087.9L1099.3 1084.1L1100.6 1080.3L1101.9 1076.5L1103.2 1072.7L1104.5 1068.8L1105.8 1065.0L1107.0 1061.2L1108.3 1057.4L1109.5 1053.6L1110.8 1049.8L1112.0 1046.0L1113.2 1042.2L1114.4 1038.4L1115.6 1034.5L1116.8 1030.7L1117.9 1026.9L1119.1 1023.1L1120.2 1019.2L1121.3 1015.4L1122.5 1011.5L1123.6 1007.7L1124.7 1003.9L1125.8 1000.0L1126.9 996.2L1127.9 992.3L1129.0 988.5L1130.1 984.6L1131.1 980.8L1132.2 976.9L1133.2 973.1L1134.2 969.2L1135.2 965.3L1136.2 961.4L1137.1 957.6L1138.1 953.7L1139.0 949.8L1139.9 945.9L1140.9 942.0L1141.8 938.1L1142.7 934.2L1143.6 930.3L1144.5 926.4L1145.4 922.5L1146.3 918.6L1147.2 914.7L1148.1 910.8L1149.0 906.9L1149.9 903.0L1150.8 899.1L1151.7 895.2L1152.6 891.3L1153.5 887.4L1154.4 883.5L1155.3 879.6L1156.3 875.7L1157.2 871.8L1158.2 867.9L1159.1 864.1L1160.1 860.2L1161.1 856.3L1162.1 852.4L1163.0 848.6L1164.0 844.7L1165.0 840.8L1166.0 836.9L1167.0 833.1L1168.0 829.2L1168.9 825.3L1169.9 821.4L1170.9 817.5L1171.8 813.6L1172.7 809.7L1173.6 805.8L1174.5 801.9L1175.3 798.0L1176.2 794.1L1177.1 790.2L1177.9 786.3L1178.8 782.4L1179.7 778.5L1180.6 774.6L1181.5 770.7L1182.6 766.8L1183.7 763.0L1184.7 759.2L1185.8 755.3L1187.2 751.5L1188.7 747.8L1190.5 744.2L1192.8 740.9L1194.6 737.4L1195.9 733.6L1197.0 729.7L1198.1 725.9L1199.3 722.1L1200.5 718.3L1201.7 714.5L1202.8 710.6L1203.9 706.8L1204.9 702.9L1206.0 699.1L1207.0 695.2L1208.0 691.4L1209.0 687.5L1210.0 683.6L1210.9 679.7L1211.9 675.8L1212.9 671.9L1213.9 668.0L1214.9 664.2L1215.9 660.3L1216.9 656.4L1217.9 652.6L1219.0 648.7L1220.0 644.8L1221.1 641.0L1222.2 637.1L1223.2 633.3L1224.3 629.4L1225.5 625.6L1226.6 621.8L1227.7 617.9L1228.9 614.1L1230.1 610.3L1231.3 606.5L1232.5 602.6L1233.7 598.8L1235.0 595.0L1236.2 591.2L1237.5 587.5L1238.9 583.7L1240.2 579.9L1241.5 576.2L1242.9 572.4L1244.3 568.7L1245.7 564.9L1247.2 561.2L1248.6 557.4L1250.1 553.7L1251.5 550.0L1253.0 546.3L1254.5 542.5L1256.0 538.8L1257.4 535.1L1258.9 531.4L1260.4 527.7L1261.9 524.0L1263.3 520.2L1264.8 516.5L1266.3 512.8L1267.7 509.1L1269.2 505.3L1270.7 501.6L1272.2 497.9L1273.7 494.2L1275.2 490.5L1276.7 486.8L1278.3 483.1L1279.9 479.4L1281.5 475.8L1283.1 472.1L1284.7 468.5L1286.4 464.9L1288.1 461.2L1289.8 457.6L1291.6 454.0L1293.4 450.4L1295.2 446.9L1297.0 443.3L1298.8 439.7L1300.7 436.2L1302.7 432.6L1304.6 429.1L1306.6 425.6L1308.7 422.1L1310.8 418.7L1313.1 415.3L1315.3 411.9L1317.7 408.6L1320.2 405.4L1322.7 402.3L1325.4 399.2L1328.2 396.3L1331.1 393.5L1334.1 390.8L1337.3 388.3L1340.5 386.0L1343.9 384.0L1347.4 382.1L1351.0 380.5L1354.6 379.2L1358.4 378.2L1362.1 377.4L1365.9 377.0L1369.8 376.8L1373.6 377.0L1377.4 377.4L1381.1 378.2L1384.8 379.3L1388.4 380.6L1391.9 382.2L1395.3 384.0L1398.7 386.1L1401.9 388.4L1405.0 391.0L1408.0 393.7L1410.8 396.7L1413.4 399.8L1415.9 403.0L1418.3 406.3L1420.6 409.7L1422.8 413.1L1424.8 416.5L1426.8 419.9L1428.7 423.2L1430.6 426.6L1432.4 429.9L1434.2 433.3L1436.0 436.7L1437.7 440.1L1439.5 443.5L1441.2 446.9L1443.0 450.4L1444.7 454.0L1446.5 457.5L1448.2 461.1L1449.9 464.8L1451.6 468.5L1453.2 472.2L1454.8 476.0L1456.4 479.8L1457.9 483.6L1459.3 487.5L1460.8 491.4L1462.1 495.3L1463.5 499.2L1464.8 503.2L1466.2 507.1L1467.5 510.9L1468.8 514.8L1470.0 518.7L1471.3 522.6L1472.6 526.4L1473.9 530.2L1475.2 534.0L1476.5 537.9L1477.7 541.7L1479.0 545.5L1480.3 549.3L1481.6 553.1L1482.9 556.9L1484.2 560.7L1485.5 564.4L1486.8 568.2L1488.1 572.0L1489.4 575.8L1490.7 579.6L1492.0 583.4L1493.3 587.2L1494.5 591.0L1495.8 594.7L1497.1 598.5L1498.4 602.3L1499.7 606.1L1501.0 609.9L1502.3 613.7L1503.5 617.5L1504.8 621.3L1506.1 625.1L1507.3 628.9L1508.6 632.7L1509.8 636.5L1511.1 640.3L1512.3 644.1L1513.5 647.9L1514.7 651.7L1516.0 655.5L1517.2 659.3L1518.4 663.1L1519.6 666.9L1520.8 670.7L1522.0 674.5L1523.2 678.4L1524.4 682.2L1525.6 686.0L1526.8 689.8L1528.0 693.6L1529.2 697.4L1530.4 701.3L1531.6 705.1L1532.8 708.9L1534.0 712.7L1535.1 716.5L1536.3 720.3L1537.5 724.2L1538.7 728.0L1539.9 731.8L1541.1 735.6L1542.3 739.4L1543.5 743.2L1544.7 747.1L1545.9 750.9L1547.1 754.7L1548.4 758.5L1549.6 762.3L1550.8 766.1L1552.0 769.9L1553.3 773.7L1554.5 777.5L1555.7 781.3L1556.9 785.1L1558.2 788.9L1559.4 792.7L1560.6 796.5L1561.8 800.4L1563.1 804.2L1564.3 808.0L1565.5 811.8L1566.8 815.6L1568.0 819.4L1569.3 823.2L1570.5 827.0L1571.8 830.8L1573.0 834.5L1574.3 838.3L1575.6 842.1L1576.9 845.9L1578.1 849.7L1579.4 853.5L1580.7 857.3L1582.0 861.1L1583.3 864.9L1584.6 868.6L1585.9 872.4L1587.2 876.2L1588.5 880.0L1589.8 883.8L1591.1 887.5L1592.4 891.3L1593.8 895.1L1595.1 898.9L1596.4 902.7L1597.7 906.4L1599.1 910.2L1600.4 914.0L1601.7 917.8L1603.0 921.5L1604.4 925.3L1605.7 929.1L1607.0 932.8L1608.4 936.6L1609.7 940.4L1611.0 944.2L1612.3 947.9L1613.7 951.7L1615.0 955.5L1616.4 959.2L1617.7 963.0L1619.1 966.8L1620.4 970.5L1621.8 974.3L1623.1 978.1L1624.5 981.8L1625.9 985.6L1627.3 989.3L1628.7 993.1L1630.1 996.8L1631.5 1000.6L1632.9 1004.3L1634.3 1008.1L1635.7 1011.8L1637.2 1015.6L1638.6 1019.3L1640.1 1023.0L1641.6 1026.7L1643.1 1030.4L1644.6 1034.1L1646.2 1037.8L1647.7 1041.5L1649.3 1045.2L1650.9 1048.9L1652.4 1052.5L1654.0 1056.2L1655.6 1059.9L1657.2 1063.5L1658.8 1067.2L1660.4 1070.8L1662.0 1074.5L1663.7 1078.2L1665.3 1081.8L1666.9 1085.5L1668.6 1089.1L1670.2 1092.7L1671.9 1096.4L1673.5 1100.0L1675.2 1103.7L1676.9 1107.3L1678.5 1110.9L1680.2 1114.5L1681.9 1118.2L1683.6 1121.8L1685.3 1125.4L1687.1 1129.0L1688.8 1132.6L1690.5 1136.2L1692.3 1139.8L1694.0 1143.4L1695.8 1147.0L1697.6 1150.6L1699.3 1154.2L1701.1 1157.8L1702.9 1161.4L1704.7 1165.0L1706.6 1168.6L1708.4 1172.1L1710.3 1175.7L1712.2 1179.2L1714.1 1182.8L1716.0 1186.3L1718.0 1189.7L1720.0 1193.2L1722.0 1196.6L1724.1 1200.0L1726.2 1203.4L1728.3 1206.7L1730.5 1210.1L1732.7 1213.4L1734.8 1216.7L1737.0 1220.1L1739.2 1223.4L1741.4 1226.7L1743.7 1230.0L1745.9 1233.3L1748.1 1236.6L1750.4 1239.9L1752.7 1243.2L1755.0 1246.4L1757.3 1249.7L1759.5 1253.0L1761.8 1256.2L1764.2 1259.5L1766.5 1262.7L1768.9 1265.9L1771.3 1269.1L1773.8 1272.2L1776.3 1275.3L1778.9 1278.3L1781.6 1281.2L1784.4 1284.0L1787.3 1286.8L1790.3 1289.4L1793.4 1292.0L1796.6 1294.5L1799.8 1296.9L1803.0 1299.3L1806.2 1301.7L1809.3 1304.2L1812.4 1306.8L1815.2 1309.5L1818.1 1312.2L1821.1 1314.9L1823.5 1318.1L1825.3 1321.7L1827.0 1325.3L1829.1 1328.8L1831.1 1332.3L1833.3 1335.6L1836.2 1338.4L1839.4 1340.8L1842.6 1343.1L1845.9 1345.3L1849.3 1347.4L1852.8 1349.4L1856.4 1351.3L1860.0 1353.1L1863.6 1354.9L1867.2 1356.7L1870.8 1358.5L1874.4 1360.3L1878.0 1362.1L1881.5 1364.0L1885.1 1365.8L1888.6 1367.6L1892.2 1369.4L1895.7 1371.3L1899.2 1373.1L1902.7 1374.9L1906.3 1376.6L1909.8 1378.3L1913.4 1380.0L1917.0 1381.6L1920.6 1383.2L1924.3 1384.8L1928.0 1386.3L1931.7 1387.8L1935.4 1389.2L1939.1 1390.6L1942.9 1392.0L1946.7 1393.3L1950.5 1394.6L1954.3 1395.8L1958.2 1397.0L1962.1 1398.1L1966.0 1399.2L1969.9 1400.3L1973.8 1401.4L1977.7 1402.4L1981.6 1403.4L1985.5 1404.5L1989.4 1405.5L1993.2 1406.5L1997.1 1407.5L2001.0 1408.4L2004.9 1409.4L2008.7 1410.3L2012.6 1411.2L2016.5 1412.1L2020.4 1412.9L2024.4 1413.7L2028.3 1414.5L2032.2 1415.3L2036.1 1416.1L2040.1 1416.8L2044.0 1417.5L2047.9 1418.2L2051.9 1418.9L2055.8 1419.6L2059.8 1420.2L2063.7 1420.8L2067.7 1421.5L2071.6 1422.1L2075.6 1422.6L2079.6 1423.2L2083.5 1423.7L2087.5 1424.3L2091.5 1424.8L2095.4 1425.3L2099.4 1425.8L2103.4 1426.3L2107.4 1426.7L2111.4 1427.2L2115.3 1427.6L2119.3 1428.0L2123.3 1428.4L2127.3 1428.8L2131.3 1429.2L2135.3 1429.6L2139.3 1430.0L2143.2 1430.4L2147.2 1430.7L2151.2 1431.1L2155.2 1431.4L2159.2 1431.8L2163.2 1432.1L2167.2 1432.4L2171.1 1432.7L2175.1 1433.1L2179.1 1433.3L2183.1 1433.6L2187.1 1433.9L2191.1 1434.2L2195.1 1434.4L2199.1 1434.7L2203.1 1435.0L2207.1 1435.2L2211.1 1435.5L2215.1 1435.7L2219.0 1436.0L2223.0 1436.3L2227.0 1436.5L2231.0 1436.8L2235.0 1437.0L2239.0 1437.2L2243.0 1437.4L2247.0 1437.6L2251.0 1437.8"/>
<path stroke="#0000f0" d="M368.0 914.0L368.8 910.1L369.7 906.2L370.5 902.2L371.3 898.3L372.1 894.4L372.8 890.5L373.5 886.5L374.2 882.6L374.8 878.6L375.4 874.7L375.9 870.7L376.5 866.7L377.0 862.8L377.5 858.8L377.9 854.8L378.4 850.8L378.8 846.9L379.2 842.9L379.7 838.9L380.1 834.9L380.6 831.0L381.0 827.0L381.5 823.0L382.0 819.0L382.5 815.1L382.9 811.1L383.4 807.1L384.0 803.2L384.5 799.2L385.0 795.2L385.5 791.3L386.0 787.3L386.6 783.3L387.1 779.4L387.6 775.4L388.1 771.4L388.7 767.5L389.2 763.5L389.7 759.5L390.2 755.6L390.7 751.6L391.2 747.6L391.8 743.6L392.3 739.7L392.8 735.7L393.3 731.7L393.8 727.8L394.3 723.8L394.8 719.8L395.3 715.9L395.8 711.9L396.3 707.9L396.8 704.0L397.4 700.0L397.9 696.0L398.4 692.1L399.0 688.1L399.6 684.1L400.1 680.2L400.7 676.2L401.4 672.3L402.0 668.3L402.6 664.4L403.2 660.4L403.8 656.5L404.4 652.5L405.0 648.5L405.6 644.6L406.1 640.6L406.6 636.6L407.1 632.7L407.6 628.7L408.0 624.7L408.4 620.7L408.8 616.8L409.2 612.8L409.6 608.8L410.0 604.8L410.4 600.8L410.8 596.8L411.2 592.9L411.6 588.9L412.0 584.9L412.5 580.9L413.0 577.0L413.5 573.0L414.0 569.0L414.5 565.1L415.0 561.1L415.5 557.1L416.0 553.1L416.5 549.2L417.0 545.2L417.6 541.2L418.1 537.3L418.6 533.3L419.1 529.3L419.6 525.4L420.2 521.4L420.7 517.4L421.3 513.5L421.9 509.5L422.5 505.6L423.1 501.6L423.8 497.7L424.4 493.7L425.1 489.8L425.8 485.8L426.4 481.9L427.0 477.9L427.7 474.0L428.3 470.0L428.8 466.1L429.4 462.1L429.9 458.1L430.5 454.2L431.0 450.2L431.6 446.3L432.2 442.3L432.8 438.3L433.4 434.4L434.0 430.4L434.6 426.5L435.2 422.6L435.8 418.6L436.5 414.5L437.2 410.4L437.8 406.5L438.4 402.8L439.2 398.9L440.2 395.0L441.5 390.5L442.8 386.2L444.1 385.3L445.4 389.1L446.7 394.0L447.8 397.9L448.6 401.9L449.1 405.7L449.6 409.5L450.1 413.5L450.6 417.7L451.2 421.7L451.7 425.6L452.3 429.6L452.8 433.5L453.4 437.5L453.9 441.4L454.5 445.4L455.0 449.4L455.5 453.3L456.0 457.3L456.5 461.3L457.0 465.3L457.4 469.2L457.8 473.2L458.2 477.2L458.6 481.2L459.0 485.2L459.4 489.1L459.8 493.1L460.2 497.1L460.5 501.1L460.9 505.1L461.2 509.1L461.6 513.1L462.0 517.0L462.3 521.0L462.7 525.0L463.0 529.0L463.3 533.0L463.7 537.0L464.0 541.0L464.3 544.9L464.6 548.9L465.0 552.9L465.3 556.9L465.6 560.9L465.9 564.9L466.2 568.9L466.5 572.9L466.8 576.9L467.1 580.9L467.3 584.8L467.6 588.8L467.8 592.8L468.1 596.8L468.3 600.8L468.5 604.8L468.8 608.8L469.0 612.8L469.2 616.8L469.5 620.8L469.7 624.8L469.9 628.8L470.2 632.8L470.4 636.8L470.7 640.8L470.9 644.8L471.2 648.8L471.4 652.8L471.7 656.7L471.9 660.7L472.2 664.7L472.5 668.7L472.8 672.7L473.1 676.7L473.4 680.7L473.8 684.7L474.2 688.7L474.6 692.6L475.0 696.6L475.4 700.6L475.9 704.6L476.3 708.6L476.8 712.5L477.3 716.5L477.7 720.5L478.2 724.4L478.6 728.4L479.1 732.4L479.6 736.4L480.0 740.3L480.5 744.3L480.9 748.3L481.4 752.3L481.8 756.3L482.3 760.2L482.7 764.2L483.2 768.2L483.7 772.2L484.1 776.1L484.7 780.1L485.2 784.1L485.8 788.0L486.4 792.0L487.0 795.9L487.7 799.9L488.4 803.8L489.1 807.7L489.8 811.7L490.6 815.6L491.3 819.5L492.0 823.5L492.7 827.4L493.4 831.4L494.0 835.3L494.6 839.3L495.3 843.2L495.9 847.2L496.6 851.1L497.3 855.1L498.0 859.0L498.7 862.9L499.5 866.8L500.3 870.8L501.2 874.7L502.1 878.6L502.9 882.5L503.8 886.4L504.7 890.3L505.5 894.2L506.3 898.1L507.1 902.1L507.8 906.0L508.6 909.9L509.3 913.9L510.0 917.8L510.7 921.7L511.4 925.7L512.2 929.6L513.0 933.5L513.8 937.4L514.7 941.3L515.6 945.2L516.5 949.1L517.5 953.0L518.4 956.9L519.4 960.8L520.4 964.7L521.4 968.5L522.3 972.4L523.3 976.3L524.3 980.2L525.2 984.1L526.2 988.0L527.1 991.8L528.1 995.7L529.1 999.6L530.0 1003.5L531.0 1007.4L532.0 1011.3L532.9 1015.1L533.9 1019.0L534.9 1022.9L535.8 1026.8L536.8 1030.7L537.8 1034.5L538.8 1038.4L539.7 1042.3L540.7 1046.2L541.7 1050.1L542.6 1054.0L543.6 1057.8L544.5 1061.7L545.5 1065.6L546.5 1069.5L547.5 1073.4L548.4 1077.3L549.4 1081.1L550.4 1085.0L551.4 1088.9L552.5 1092.8L553.5 1096.6L554.5 1100.5L555.6 1104.3L556.8 1108.2L558.0 1112.0L559.3 1115.8L560.6 1119.5L562.0 1123.3L563.5 1127.0L565.1 1130.6L566.7 1134.2L568.5 1137.8L570.4 1141.4L572.5 1145.0L574.8 1148.5L577.4 1152.0L580.1 1155.2L583.0 1158.0L586.1 1160.4L589.5 1162.3L592.9 1163.4L596.5 1163.9L600.1 1163.6L603.7 1162.7L607.0 1161.0L610.2 1158.8L613.2 1156.1L615.9 1152.9L618.5 1149.5L620.8 1146.0L623.0 1142.5L625.0 1138.9L626.9 1135.4L628.6 1131.8L630.2 1128.2L631.8 1124.5L633.3 1120.8L634.8 1117.1L636.3 1113.3L637.6 1109.6L639.0 1105.8L640.3 1102.0L641.5 1098.2L642.7 1094.4L643.9 1090.6L645.1 1086.8L646.3 1082.9L647.4 1079.1L648.6 1075.3L649.7 1071.4L650.7 1067.6L651.8 1063.7L652.8 1059.8L653.9 1056.0L654.9 1052.1L655.9 1048.2L656.9 1044.4L657.9 1040.5L659.0 1036.6L660.0 1032.8L661.0 1028.9L662.1 1025.0L663.1 1021.2L664.2 1017.3L665.3 1013.5L666.4 1009.6L667.6 1005.8L668.7 1002.0L669.9 998.1L671.1 994.3L672.3 990.5L673.5 986.7L674.7 982.9L676.0 979.1L677.2 975.3L678.5 971.5L679.8 967.7L681.1 963.9L682.5 960.1L683.9 956.4L685.3 952.6L686.7 948.9L688.1 945.1L689.6 941.4L691.1 937.7L692.6 934.0L694.2 930.3L695.7 926.6L697.3 922.9L698.9 919.3L700.5 915.6L702.0 911.9L703.6 908.3L705.2 904.6L706.8 900.9L708.4 897.3L710.0 893.6L711.6 889.9L713.2 886.3L714.8 882.6L716.4 878.9L718.0 875.2L719.6 871.6L721.1 867.9L722.7 864.2L724.2 860.5L725.7 856.8L727.3 853.1L728.8 849.4L730.4 845.7L732.0 842.1L733.7 838.4L735.4 834.8L737.1 831.2L739.0 827.7L740.8 824.1L742.8 820.6L744.8 817.2L746.8 813.7L748.9 810.3L751.0 806.9L753.2 803.6L755.4 800.2L757.7 796.9L759.9 793.6L762.2 790.3L764.5 787.0L766.7 783.7L769.0 780.4L771.3 777.1L773.5 773.8L775.8 770.5L778.1 767.2L780.5 763.9L782.8 760.7L785.3 757.5L787.8 754.4L790.3 751.3L793.0 748.3L795.7 745.4L798.6 742.6L801.5 739.9L804.6 737.3L807.7 734.8L811.0 732.4L814.4 730.3L817.9 728.3L821.5 726.5L825.2 725.0L828.9 723.7L832.7 722.6L836.6 721.8L840.5 721.2L844.4 720.8L848.4 720.7L852.3 720.7L856.3 721.0L860.2 721.5L864.2 722.1L868.2 722.8L872.3 723.6L876.3 724.3L880.3 725.0L884.3 725.6L888.3 726.0L892.3 726.1L896.1 726.0L900.0 725.5L903.7 724.8L907.4 723.7L911.0 722.4L914.5 720.8L917.9 719.0L921.3 716.8L924.5 714.4L927.5 711.8L930.5 709.0L933.3 706.1L936.1 703.1L938.7 699.9L941.2 696.7L943.6 693.5L945.9 690.3L948.2 687.1L950.4 683.9L952.6 680.7L954.7 677.5L956.9 674.4L959.0 671.3L961.1 668.1L963.2 665.0L965.4 661.9L967.5 658.7L969.7 655.5L971.8 652.2L973.9 648.9L976.0 645.5L978.0 642.0L980.1 638.5L982.1 634.9L984.0 631.2L985.9 627.5L987.8 623.7L989.7 620.0L991.5 616.2L993.3 612.4L995.1 608.7L996.9 605.0L998.7 601.3L1000.4 597.6L1002.2 593.9L1004.0 590.2L1005.8 586.6L1007.5 583.0L1009.3 579.4L1011.1 575.8L1012.9 572.1L1014.6 568.5L1016.4 564.9L1018.2 561.3L1020.0 557.7L1021.8 554.1L1023.5 550.5L1025.3 546.9L1027.2 543.3L1029.0 539.7L1030.8 536.1L1032.6 532.5L1034.5 528.9L1036.3 525.4L1038.2 521.8L1040.0 518.2L1041.9 514.6L1043.8 511.0L1045.7 507.5L1047.7 503.9L1049.6 500.4L1051.6 496.9L1053.6 493.4L1055.6 489.9L1057.7 486.5L1059.7 483.0L1061.8 479.6L1064.0 476.2L1066.1 472.9L1068.3 469.6L1070.6 466.3L1072.9 463.0L1075.2 459.8L1077.5 456.6L1079.9 453.5L1082.3 450.4L1084.8 447.4L1087.3 444.4L1089.9 441.4L1092.5 438.5L1095.2 435.6L1097.9 432.8L1100.6 430.1L1103.4 427.3L1106.3 424.7L1109.2 422.1L1112.1 419.5L1115.1 417.0L1118.1 414.6L1121.2 412.2L1124.4 409.8L1127.5 407.5L1130.7 405.2L1134.0 403.0L1137.3 400.8L1140.6 398.6L1143.9 396.4L1147.2 394.2L1150.6 392.0L1154.0 389.8L1157.4 387.7L1160.8 385.7L1164.4 383.7L1167.9 381.8L1171.5 380.0L1175.1 378.3L1178.8 376.6L1181.5 375.4L1288.7 375.4L1292.4 376.9L1296.1 378.4L1299.8 379.9L1303.5 381.6L1307.1 383.3L1310.6 385.1L1314.1 387.0L1317.5 389.0L1320.8 391.2L1324.1 393.5L1327.3 396.0L1330.4 398.5L1333.4 401.1L1336.4 403.8L1339.3 406.5L1342.2 409.3L1345.0 412.2L1347.6 415.2L1350.2 418.3L1352.7 421.5L1355.1 424.6L1357.5 427.8L1359.8 431.1L1362.1 434.3L1364.4 437.5L1366.6 440.7L1368.8 444.0L1371.0 447.2L1373.1 450.5L1375.3 453.7L1377.4 457.0L1379.5 460.4L1381.5 463.7L1383.5 467.1L1385.5 470.6L1387.4 474.1L1389.3 477.6L1391.2 481.2L1393.0 484.8L1394.7 488.4L1396.5 492.1L1398.2 495.8L1399.9 499.5L1401.5 503.2L1403.1 506.9L1404.8 510.6L1406.3 514.3L1407.9 518.0L1409.5 521.7L1411.0 525.4L1412.5 529.2L1414.0 532.9L1415.5 536.6L1417.0 540.4L1418.5 544.1L1420.0 547.9L1421.4 551.6L1422.9 555.4L1424.3 559.1L1425.8 562.9L1427.2 566.6L1428.6 570.4L1430.1 574.1L1431.5 577.8L1432.9 581.6L1434.4 585.3L1435.8 589.1L1437.2 592.8L1438.7 596.5L1440.1 600.3L1441.6 604.0L1443.0 607.7L1444.5 611.5L1446.0 615.2L1447.5 618.9L1449.0 622.6L1450.5 626.3L1452.0 630.0L1453.5 633.7L1455.0 637.5L1456.5 641.2L1458.0 644.9L1459.5 648.6L1461.0 652.3L1462.4 656.0L1463.9 659.7L1465.4 663.5L1466.8 667.2L1468.3 670.9L1469.7 674.6L1471.2 678.4L1472.6 682.1L1474.0 685.8L1475.4 689.6L1476.8 693.3L1478.2 697.1L1479.6 700.8L1481.0 704.6L1482.4 708.3L1483.8 712.1L1485.1 715.8L1486.5 719.6L1487.8 723.3L1489.2 727.1L1490.5 730.9L1491.9 734.6L1493.2 738.4L1494.5 742.2L1495.8 745.9L1497.1 749.7L1498.4 753.5L1499.7 757.3L1501.0 761.0L1502.3 764.8L1503.5 768.6L1504.8 772.4L1506.1 776.2L1507.3 780.0L1508.6 783.8L1509.8 787.6L1511.1 791.4L1512.4 795.2L1513.6 798.9L1514.9 802.7L1516.1 806.5L1517.4 810.3L1518.6 814.1L1519.9 817.9L1521.1 821.7L1522.4 825.5L1523.6 829.3L1524.9 833.1L1526.1 836.9L1527.4 840.7L1528.6 844.5L1529.9 848.3L1531.2 852.1L1532.4 855.9L1533.7 859.7L1535.0 863.4L1536.3 867.2L1537.6 871.0L1538.9 874.8L1540.2 878.6L1541.5 882.4L1542.8 886.1L1544.2 889.9L1545.5 893.7L1546.9 897.4L1548.3 901.2L1549.6 904.9L1551.0 908.7L1552.5 912.4L1553.9 916.2L1555.3 919.9L1556.7 923.6L1558.2 927.4L1559.6 931.1L1561.1 934.8L1562.6 938.6L1564.0 942.3L1565.5 946.0L1566.9 949.7L1568.4 953.5L1569.8 957.2L1571.3 960.9L1572.7 964.7L1574.2 968.4L1575.6 972.1L1577.0 975.9L1578.4 979.6L1579.9 983.4L1581.3 987.1L1582.7 990.8L1584.1 994.6L1585.5 998.3L1586.9 1002.1L1588.3 1005.8L1589.7 1009.6L1591.2 1013.3L1592.6 1017.1L1594.0 1020.8L1595.5 1024.5L1596.9 1028.3L1598.4 1032.0L1599.9 1035.7L1601.4 1039.4L1602.9 1043.1L1604.4 1046.8L1605.9 1050.5L1607.4 1054.2L1608.9 1057.9L1610.4 1061.6L1612.0 1065.3L1613.5 1069.0L1615.1 1072.7L1616.6 1076.4L1618.2 1080.1L1619.7 1083.7L1621.3 1087.4L1622.9 1091.1L1624.5 1094.7L1626.1 1098.4L1627.8 1102.0L1629.4 1105.7L1631.1 1109.3L1632.7 1112.9L1634.4 1116.6L1636.1 1120.2L1637.8 1123.8L1639.6 1127.4L1641.3 1131.0L1643.0 1134.6L1644.8 1138.2L1646.6 1141.8L1648.3 1145.3L1650.1 1148.9L1651.9 1152.5L1653.7 1156.1L1655.5 1159.6L1657.3 1163.2L1659.2 1166.7L1661.0 1170.3L1662.9 1173.8L1664.8 1177.4L1666.7 1180.9L1668.6 1184.4L1670.5 1187.9L1672.4 1191.5L1674.3 1195.0L1676.3 1198.5L1678.3 1202.0L1680.3 1205.5L1682.3 1209.0L1684.3 1212.4L1686.4 1215.9L1688.4 1219.3L1690.5 1222.7L1692.7 1226.1L1694.8 1229.5L1697.0 1232.9L1699.2 1236.3L1701.4 1239.6L1703.6 1242.9L1705.9 1246.1L1708.3 1249.3L1710.6 1252.5L1713.0 1255.7L1715.4 1258.9L1717.8 1262.0L1720.3 1265.1L1722.7 1268.2L1725.2 1271.3L1727.7 1274.4L1730.3 1277.4L1732.8 1280.5L1735.4 1283.5L1738.0 1286.5L1740.6 1289.5L1743.3 1292.4L1746.0 1295.4L1748.7 1298.3L1751.5 1301.2L1754.2 1304.0L1757.0 1306.9L1759.8 1309.8L1762.6 1312.6L1765.5 1315.4L1768.4 1318.2L1771.4 1320.8L1774.4 1323.4L1777.5 1325.8L1780.8 1328.2L1784.1 1330.4L1787.4 1332.6L1790.8 1334.7L1794.3 1336.8L1797.7 1338.9L1801.1 1341.1L1804.5 1343.2L1807.7 1345.5L1811.0 1347.9L1814.2 1350.1L1817.5 1352.4L1820.7 1354.9L1823.6 1357.6L1826.2 1360.6L1828.4 1364.0L1831.1 1367.0L1834.3 1369.5L1837.6 1371.8L1840.8 1374.0L1844.1 1376.2L1847.5 1378.3L1851.0 1380.2L1854.6 1382.0L1858.3 1383.7L1861.9 1385.4L1865.7 1386.9L1869.4 1388.4L1873.2 1389.8L1876.9 1391.2L1880.7 1392.5L1884.5 1393.8L1888.3 1395.1L1892.0 1396.5L1895.8 1397.8L1899.5 1399.1L1903.2 1400.5L1907.0 1401.8L1910.7 1403.1L1914.4 1404.4L1918.2 1405.7L1922.0 1406.9L1925.8 1408.0L1929.6 1409.1L1933.4 1410.2L1937.2 1411.3L1941.1 1412.3L1945.0 1413.2L1948.9 1414.1L1952.8 1415.0L1956.7 1415.8L1960.6 1416.6L1964.6 1417.4L1968.6 1418.1L1972.6 1418.8L1976.5 1419.4L1980.5 1420.1L1984.5 1420.7L1988.5 1421.3L1992.5 1421.9L1996.5 1422.5L2000.4 1423.1L2004.4 1423.6L2008.4 1424.2L2012.3 1424.7L2016.3 1425.2L2020.3 1425.7L2024.3 1426.2L2028.2 1426.6L2032.2 1427.1L2036.2 1427.5L2040.2 1427.9L2044.2 1428.3L2048.1 1428.7L2052.1 1429.1L2056.1 1429.4L2060.1 1429.7L2064.1 1430.1L2068.1 1430.4L2072.1 1430.7L2076.1 1431.0L2080.1 1431.3L2084.1 1431.6L2088.1 1431.8L2092.1 1432.1L2096.1 1432.4L2100.0 1432.6L2104.0 1432.8L2108.0 1433.1L2112.0 1433.3L2116.0 1433.5L2120.0 1433.7L2124.0 1433.9L2128.0 1434.1L2132.0 1434.3L2136.0 1434.5L2140.0 1434.7L2144.0 1434.8L2148.0 1435.0L2152.0 1435.2L2156.0 1435.3L2160.0 1435.5L2164.0 1435.6L2168.0 1435.7L2172.0 1435.9L2176.0 1436.0L2180.0 1436.1L2184.0 1436.3L2188.0 1436.4L2192.0 1436.5L2196.0 1436.7L2200.0 1436.8L2204.0 1436.9L2208.0 1437.0L2212.0 1437.2L2216.0 1437.3L2220.0 1437.4L2224.0 1437.5L2228.0 1437.7L2232.0 1437.8L2236.0 1437.9L2240.0 1438.0L2244.0 1438.1L2248.0 1438.2L2251.0 1438.3"/>
<path stroke="#8800ff" d="M368.0 918.0L368.2 914.0L368.3 910.0L368.5 906.0L368.7 902.0L368.9 898.0L369.1 894.0L369.3 890.0L369.5 886.0L369.8 882.0L370.0 878.0L370.3 874.1L370.5 870.1L370.8 866.1L371.1 862.1L371.4 858.1L371.7 854.1L372.0 850.1L372.3 846.1L372.6 842.1L372.9 838.1L373.2 834.2L373.5 830.2L373.9 826.2L374.2 822.2L374.5 818.2L374.9 814.2L375.2 810.2L375.5 806.2L375.9 802.3L376.2 798.3L376.6 794.3L376.9 790.3L377.3 786.3L377.6 782.3L378.0 778.4L378.3 774.4L378.7 770.4L379.0 766.4L379.4 762.4L379.8 758.4L380.1 754.4L380.5 750.5L380.8 746.5L381.2 742.5L381.6 738.5L381.9 734.5L382.3 730.5L382.7 726.6L383.0 722.6L383.4 718.6L383.8 714.6L384.1 710.6L384.5 706.6L384.9 702.7L385.3 698.7L385.6 694.7L386.0 690.7L386.4 686.7L386.8 682.7L387.2 678.8L387.6 674.8L388.0 670.8L388.4 666.8L388.8 662.8L389.2 658.9L389.6 654.9L390.0 650.9L390.4 646.9L390.8 642.9L391.2 639.0L391.6 635.0L392.0 631.0L392.5 627.0L392.9 623.0L393.3 619.1L393.8 615.1L394.2 611.1L394.7 607.1L395.1 603.2L395.6 599.2L396.1 595.2L396.5 591.3L397.0 587.3L397.6 583.3L398.1 579.4L398.7 575.4L399.3 571.4L399.9 567.5L400.5 563.5L401.2 559.6L401.9 555.6L402.6 551.7L403.3 547.8L404.1 543.8L404.8 539.9L405.6 536.0L406.4 532.1L407.1 528.1L407.9 524.1L408.7 520.0L409.7 516.1L410.6 512.4L411.5 508.6L412.5 504.8L413.6 500.9L415.2 497.2L417.5 494.3L420.0 497.7L421.3 501.6L422.5 505.4L423.5 509.3L424.6 513.0L425.9 516.6L427.1 520.4L428.2 524.5L429.1 528.5L429.9 532.4L430.7 536.3L431.4 540.2L432.0 544.2L432.5 548.1L432.9 552.1L433.2 556.1L433.6 560.1L433.9 564.1L434.2 568.1L434.5 572.1L434.8 576.1L435.2 580.1L435.5 584.0L435.8 588.0L436.1 592.0L436.4 596.0L436.6 600.0L436.9 604.0L437.1 608.0L437.4 612.0L437.6 616.0L437.9 620.0L438.2 624.0L438.5 628.0L438.7 631.9L439.1 635.9L439.4 639.9L439.7 643.9L440.1 647.9L440.5 651.9L440.9 655.9L441.3 659.8L441.7 663.8L442.1 667.8L442.5 671.8L442.9 675.8L443.3 679.7L443.6 683.7L444.0 687.7L444.3 691.7L444.6 695.7L444.9 699.7L445.2 703.7L445.5 707.6L445.8 711.6L446.0 715.6L446.3 719.6L446.6 723.6L446.8 727.6L447.1 731.6L447.4 735.6L447.6 739.6L447.9 743.6L448.2 747.6L448.5 751.6L448.7 755.5L449.0 759.5L449.3 763.5L449.6 767.5L449.9 771.5L450.2 775.5L450.4 779.5L450.7 783.5L451.0 787.5L451.3 791.5L451.6 795.4L451.9 799.4L452.2 803.4L452.5 807.4L452.8 811.4L453.2 815.4L453.5 819.4L453.9 823.4L454.2 827.3L454.6 831.3L454.9 835.3L455.3 839.3L455.6 843.3L455.9 847.3L456.1 851.3L456.4 855.3L456.6 859.3L456.9 863.2L457.1 867.2L457.3 871.2L457.6 875.2L457.8 879.2L458.0 883.2L458.3 887.2L458.6 891.2L458.9 895.2L459.2 899.2L459.6 903.2L459.9 907.1L460.3 911.1L460.7 915.1L461.1 919.1L461.5 923.1L462.0 927.0L462.4 931.0L462.9 935.0L463.4 939.0L463.9 942.9L464.3 946.9L464.8 950.9L465.3 954.8L465.8 958.8L466.4 962.8L466.9 966.8L467.4 970.7L467.9 974.7L468.4 978.7L468.9 982.6L469.4 986.6L469.9 990.6L470.4 994.5L470.9 998.5L471.4 1002.5L471.8 1006.4L472.3 1010.4L472.8 1014.4L473.3 1018.4L473.8 1022.3L474.2 1026.3L474.7 1030.3L475.2 1034.2L475.7 1038.2L476.1 1042.2L476.6 1046.2L477.1 1050.1L477.5 1054.1L478.0 1058.1L478.5 1062.1L479.0 1066.0L479.4 1070.0L479.9 1074.0L480.4 1077.9L480.9 1081.9L481.4 1085.9L481.9 1089.9L482.4 1093.8L482.9 1097.8L483.4 1101.8L483.9 1105.7L484.4 1109.7L485.0 1113.7L485.5 1117.6L486.0 1121.6L486.5 1125.6L487.1 1129.5L487.6 1133.5L488.1 1137.5L488.7 1141.4L489.2 1145.4L489.8 1149.3L490.4 1153.3L491.1 1157.2L491.8 1161.2L492.5 1165.1L493.3 1169.0L494.2 1172.9L495.1 1176.8L496.1 1180.7L497.1 1184.6L498.2 1188.4L499.3 1192.3L500.4 1196.2L501.5 1200.0L502.6 1204.0L503.9 1208.0L505.3 1211.7L506.6 1215.3L507.9 1218.9L509.5 1222.6L511.6 1226.0L514.1 1229.1L517.7 1230.9L521.5 1229.5L524.1 1226.5L526.2 1223.1L528.3 1219.7L530.5 1216.5L532.3 1213.1L533.8 1209.4L535.1 1205.5L536.4 1201.5L537.5 1197.7L538.7 1193.8L539.8 1190.0L540.8 1186.1L541.8 1182.2L542.9 1178.4L544.0 1174.5L545.1 1170.7L546.2 1166.8L547.3 1163.0L548.4 1159.2L549.5 1155.3L550.6 1151.5L551.7 1147.6L552.8 1143.8L553.9 1139.9L555.0 1136.1L556.1 1132.2L557.2 1128.4L558.2 1124.5L559.2 1120.6L560.3 1116.8L561.3 1112.9L562.2 1109.0L563.2 1105.1L564.1 1101.2L565.1 1097.3L566.0 1093.4L566.8 1089.5L567.7 1085.6L568.5 1081.7L569.3 1077.8L570.1 1073.9L570.9 1069.9L571.7 1066.0L572.4 1062.1L573.2 1058.2L573.9 1054.2L574.6 1050.3L575.4 1046.4L576.1 1042.4L576.8 1038.5L577.5 1034.6L578.2 1030.6L579.0 1026.7L579.7 1022.8L580.4 1018.8L581.1 1014.9L581.8 1010.9L582.5 1007.0L583.2 1003.1L583.9 999.1L584.6 995.2L585.3 991.3L586.0 987.3L586.7 983.4L587.4 979.4L588.1 975.5L588.8 971.6L589.5 967.6L590.2 963.7L590.9 959.7L591.6 955.8L592.3 951.9L593.0 947.9L593.6 944.0L594.3 940.0L594.9 936.1L595.6 932.1L596.2 928.2L596.8 924.2L597.3 920.3L597.9 916.3L598.4 912.3L598.9 908.4L599.4 904.4L599.9 900.4L600.3 896.4L600.8 892.5L601.3 888.5L601.8 884.5L602.3 880.6L602.8 876.6L603.4 872.6L604.0 868.7L604.6 864.7L605.2 860.8L605.8 856.8L606.4 852.9L607.1 848.9L607.8 845.0L608.4 841.0L609.1 837.1L609.8 833.1L610.5 829.2L611.2 825.3L611.8 821.3L612.5 817.4L613.2 813.4L613.9 809.5L614.6 805.6L615.3 801.6L616.0 797.7L616.7 793.7L617.5 789.8L618.2 785.9L618.9 781.9L619.6 778.0L620.3 774.1L621.1 770.1L621.8 766.2L622.6 762.3L623.4 758.4L624.2 754.4L625.0 750.5L625.9 746.6L626.8 742.7L627.7 738.8L628.6 734.9L629.6 731.1L630.6 727.2L631.7 723.3L632.8 719.5L633.9 715.6L635.1 711.8L636.3 708.0L637.5 704.2L638.7 700.4L639.9 696.6L641.3 692.8L642.8 688.9L644.5 685.1L646.4 681.3L648.6 677.7L651.1 674.5L653.8 671.8L656.8 669.6L660.1 668.2L663.5 667.4L667.2 667.3L670.9 668.0L674.5 669.3L677.9 671.3L681.1 673.9L684.0 676.9L686.6 680.1L689.0 683.6L691.0 687.1L692.9 690.7L694.4 694.4L695.8 698.1L697.1 701.8L698.3 705.7L699.4 709.5L700.5 713.4L701.7 717.3L702.8 721.1L704.0 724.9L705.1 728.7L706.3 732.6L707.4 736.4L708.6 740.2L709.7 744.1L710.9 747.9L712.0 751.7L713.2 755.6L714.3 759.4L715.5 763.2L716.6 767.1L717.8 770.9L719.0 774.7L720.1 778.6L721.3 782.4L722.4 786.2L723.6 790.0L724.7 793.9L725.8 797.7L726.9 801.6L728.0 805.4L729.0 809.3L730.0 813.2L731.1 817.0L732.1 820.9L733.2 824.7L734.3 828.6L735.4 832.4L736.5 836.3L737.7 840.1L738.9 843.9L740.2 847.7L741.5 851.5L742.9 855.2L744.3 859.0L745.7 862.7L747.2 866.4L748.7 870.1L750.2 873.8L751.7 877.5L753.3 881.3L754.7 885.0L756.1 888.7L757.5 892.5L758.8 896.2L760.0 900.1L761.2 903.9L762.2 907.7L763.2 911.6L764.2 915.5L765.1 919.4L766.0 923.3L766.9 927.2L767.8 931.1L768.7 935.0L769.5 938.9L770.4 942.8L771.3 946.7L772.2 950.6L773.1 954.5L773.9 958.4L774.8 962.3L775.7 966.2L776.6 970.1L777.5 974.0L778.4 977.9L779.2 981.8L780.1 985.7L781.0 989.6L781.9 993.5L782.8 997.4L783.6 1001.3L784.5 1005.3L785.3 1009.2L786.1 1013.1L786.9 1017.0L787.7 1020.9L788.5 1024.9L789.2 1028.8L790.0 1032.7L790.8 1036.6L791.5 1040.6L792.3 1044.5L793.1 1048.4L793.9 1052.3L794.6 1056.3L795.4 1060.2L796.2 1064.1L797.0 1068.0L797.8 1071.9L798.6 1075.9L799.4 1079.8L800.2 1083.7L801.0 1087.6L801.7 1091.6L802.5 1095.5L803.3 1099.4L804.1 1103.3L804.9 1107.2L805.7 1111.2L806.5 1115.1L807.3 1119.0L808.1 1122.9L808.8 1126.9L809.6 1130.8L810.4 1134.7L811.2 1138.6L812.0 1142.5L812.8 1146.5L813.5 1150.4L814.3 1154.3L815.1 1158.2L815.9 1162.2L816.8 1166.1L817.6 1170.0L818.5 1173.9L819.5 1177.7L820.5 1181.6L821.6 1185.4L822.8 1189.3L824.0 1193.1L825.2 1196.9L826.5 1200.7L827.8 1204.5L829.1 1208.3L830.4 1212.0L831.8 1215.8L833.2 1219.6L834.5 1223.3L835.9 1227.1L837.4 1230.8L838.8 1234.6L840.2 1238.3L841.7 1242.0L843.1 1245.8L844.6 1249.5L846.1 1253.2L847.6 1256.9L849.1 1260.6L850.7 1264.3L852.3 1268.0L854.0 1271.6L855.7 1275.2L857.4 1278.8L859.2 1282.4L861.1 1286.0L863.0 1289.5L865.0 1293.0L867.1 1296.5L869.2 1299.9L871.5 1303.3L873.9 1306.6L876.4 1309.8L879.0 1312.9L881.8 1315.9L884.7 1318.7L887.7 1321.3L890.9 1323.8L894.2 1326.0L897.6 1328.0L901.2 1329.7L904.8 1331.1L908.5 1332.2L912.3 1333.1L916.1 1333.5L919.9 1333.7L923.8 1333.5L927.6 1333.0L931.4 1332.1L935.2 1331.0L938.8 1329.5L942.4 1327.9L946.0 1325.9L949.4 1323.8L952.7 1321.5L955.9 1319.0L959.0 1316.4L962.0 1313.7L964.9 1310.9L967.8 1308.0L970.6 1305.1L973.3 1302.0L976.0 1299.0L978.6 1295.9L981.1 1292.8L983.6 1289.7L986.1 1286.5L988.5 1283.4L990.9 1280.1L993.3 1276.9L995.6 1273.6L997.8 1270.3L1000.0 1267.0L1002.1 1263.6L1004.2 1260.2L1006.3 1256.8L1008.3 1253.3L1010.4 1249.9L1012.3 1246.4L1014.3 1242.9L1016.2 1239.4L1018.1 1235.9L1020.0 1232.3L1021.9 1228.8L1023.8 1225.3L1025.6 1221.7L1027.5 1218.2L1029.3 1214.6L1031.2 1211.1L1033.0 1207.5L1034.7 1203.9L1036.5 1200.3L1038.2 1196.7L1039.9 1193.1L1041.6 1189.4L1043.2 1185.8L1044.8 1182.1L1046.4 1178.5L1048.0 1174.8L1049.6 1171.1L1051.2 1167.4L1052.7 1163.8L1054.3 1160.1L1055.8 1156.4L1057.3 1152.7L1058.7 1148.9L1060.2 1145.2L1061.6 1141.5L1063.0 1137.7L1064.4 1134.0L1065.8 1130.2L1067.2 1126.5L1068.6 1122.7L1070.0 1119.0L1071.4 1115.2L1072.8 1111.5L1074.2 1107.7L1075.5 1104.0L1076.9 1100.2L1078.3 1096.4L1079.6 1092.7L1081.0 1088.9L1082.3 1085.1L1083.6 1081.3L1084.9 1077.6L1086.2 1073.8L1087.5 1070.0L1088.8 1066.2L1090.0 1062.4L1091.3 1058.6L1092.5 1054.8L1093.7 1050.9L1094.9 1047.1L1096.1 1043.3L1097.2 1039.5L1098.4 1035.7L1099.5 1031.8L1100.6 1028.0L1101.8 1024.1L1102.9 1020.3L1103.9 1016.5L1105.0 1012.6L1106.1 1008.8L1107.2 1004.9L1108.2 1001.0L1109.2 997.2L1110.3 993.3L1111.3 989.5L1112.3 985.6L1113.3 981.7L1114.4 977.9L1115.4 974.0L1116.4 970.1L1117.4 966.3L1118.4 962.4L1119.3 958.5L1120.3 954.6L1121.3 950.8L1122.3 946.9L1123.3 943.0L1124.3 939.1L1125.3 935.3L1126.2 931.4L1127.2 927.5L1128.2 923.6L1129.2 919.8L1130.2 915.9L1131.1 912.0L1132.1 908.1L1133.0 904.2L1134.0 900.4L1134.9 896.5L1135.9 892.6L1136.8 888.7L1137.8 884.8L1138.7 880.9L1139.7 877.0L1140.7 873.2L1141.7 869.3L1142.7 865.4L1143.7 861.6L1144.7 857.7L1145.7 853.8L1146.8 850.0L1147.8 846.1L1148.9 842.3L1149.9 838.4L1151.0 834.6L1152.1 830.7L1153.2 826.9L1154.3 823.0L1155.4 819.2L1156.5 815.3L1157.6 811.5L1158.7 807.6L1159.7 803.8L1160.7 799.9L1161.7 796.0L1162.7 792.1L1163.6 788.2L1164.5 784.3L1165.4 780.4L1166.2 776.5L1167.0 772.6L1167.8 768.7L1168.6 764.8L1169.4 760.9L1170.2 756.9L1171.0 753.0L1171.8 749.1L1172.7 745.2L1173.6 741.3L1174.5 737.4L1175.5 733.5L1176.5 729.6L1177.4 725.8L1178.4 721.9L1179.4 718.0L1180.3 714.1L1181.3 710.2L1182.2 706.3L1183.1 702.4L1184.0 698.5L1184.9 694.6L1186.0 690.8L1186.9 686.9L1187.8 683.0L1189.0 679.2L1190.5 675.5L1192.1 671.8L1194.2 668.3L1196.3 664.9L1197.5 661.1L1198.3 657.2L1199.2 653.3L1200.3 649.4L1201.4 645.6L1202.5 641.8L1203.6 637.9L1204.6 634.1L1205.7 630.2L1206.8 626.4L1207.9 622.5L1208.9 618.6L1209.9 614.8L1211.0 610.9L1212.0 607.0L1213.0 603.2L1214.1 599.3L1215.2 595.5L1216.3 591.6L1217.4 587.8L1218.6 584.0L1219.8 580.2L1221.0 576.3L1222.2 572.5L1223.4 568.7L1224.7 564.9L1225.9 561.1L1227.2 557.3L1228.5 553.5L1229.8 549.7L1231.1 546.0L1232.4 542.2L1233.7 538.4L1235.0 534.6L1236.4 530.9L1237.7 527.1L1239.1 523.3L1240.5 519.6L1241.9 515.8L1243.2 512.1L1244.6 508.3L1246.1 504.6L1247.5 500.8L1248.9 497.1L1250.4 493.4L1251.8 489.7L1253.3 485.9L1254.8 482.2L1256.3 478.5L1257.9 474.8L1259.4 471.2L1261.0 467.5L1262.6 463.8L1264.3 460.1L1265.9 456.5L1267.5 452.8L1269.2 449.2L1270.9 445.6L1272.6 441.9L1274.3 438.3L1276.0 434.6L1277.7 431.0L1279.5 427.3L1281.3 423.7L1283.1 420.1L1285.1 416.4L1287.1 412.8L1289.2 409.2L1291.4 405.7L1293.7 402.3L1296.1 399.0L1298.7 395.8L1301.4 392.8L1304.2 390.0L1307.2 387.4L1310.3 385.0L1313.4 383.0L1316.7 381.2L1320.1 379.8L1323.5 378.7L1327.0 377.9L1330.6 377.5L1334.1 377.4L1337.7 377.7L1341.3 378.4L1344.9 379.3L1348.4 380.6L1351.9 382.2L1355.3 384.1L1358.6 386.3L1361.8 388.7L1364.9 391.3L1367.8 394.2L1370.6 397.2L1373.3 400.3L1375.8 403.6L1378.2 407.0L1380.5 410.4L1382.7 413.9L1384.8 417.4L1386.9 420.9L1388.8 424.4L1390.6 428.0L1392.4 431.6L1394.1 435.3L1395.8 438.9L1397.4 442.6L1398.9 446.3L1400.4 450.0L1401.9 453.7L1403.4 457.4L1404.8 461.1L1406.2 464.8L1407.6 468.5L1409.0 472.2L1410.4 475.9L1411.8 479.6L1413.1 483.4L1414.5 487.1L1415.8 490.9L1417.2 494.7L1418.5 498.5L1419.8 502.3L1421.1 506.1L1422.4 509.9L1423.7 513.7L1424.9 517.5L1426.2 521.4L1427.5 525.2L1428.7 529.0L1430.0 532.8L1431.2 536.6L1432.4 540.4L1433.7 544.3L1434.9 548.1L1436.1 551.9L1437.2 555.8L1438.4 559.6L1439.6 563.4L1440.8 567.2L1442.0 571.1L1443.2 574.9L1444.4 578.7L1445.6 582.5L1446.8 586.4L1448.0 590.2L1449.1 594.0L1450.3 597.8L1451.5 601.6L1452.7 605.5L1453.8 609.3L1455.0 613.1L1456.1 617.0L1457.3 620.8L1458.5 624.6L1459.6 628.4L1460.7 632.3L1461.9 636.1L1463.0 640.0L1464.1 643.8L1465.2 647.6L1466.3 651.5L1467.4 655.3L1468.5 659.2L1469.5 663.0L1470.6 666.9L1471.6 670.7L1472.7 674.6L1473.7 678.5L1474.7 682.3L1475.7 686.2L1476.7 690.1L1477.7 694.0L1478.7 697.8L1479.6 701.7L1480.6 705.6L1481.6 709.5L1482.5 713.4L1483.5 717.3L1484.4 721.1L1485.4 725.0L1486.3 728.9L1487.3 732.8L1488.2 736.7L1489.1 740.6L1490.1 744.5L1491.0 748.4L1491.9 752.2L1492.9 756.1L1493.8 760.0L1494.8 763.9L1495.7 767.8L1496.7 771.7L1497.7 775.5L1498.6 779.4L1499.6 783.3L1500.6 787.2L1501.6 791.1L1502.5 794.9L1503.5 798.8L1504.5 802.7L1505.5 806.6L1506.5 810.4L1507.5 814.3L1508.5 818.2L1509.6 822.0L1510.6 825.9L1511.6 829.7L1512.7 833.6L1513.7 837.5L1514.8 841.3L1515.9 845.2L1516.9 849.0L1518.0 852.9L1519.1 856.7L1520.2 860.6L1521.3 864.4L1522.4 868.3L1523.5 872.1L1524.6 875.9L1525.7 879.8L1526.8 883.6L1527.9 887.5L1529.1 891.3L1530.2 895.1L1531.3 899.0L1532.5 902.8L1533.6 906.7L1534.8 910.5L1535.9 914.3L1537.1 918.1L1538.3 922.0L1539.4 925.8L1540.6 929.6L1541.8 933.4L1543.0 937.3L1544.2 941.1L1545.3 944.9L1546.5 948.7L1547.7 952.6L1548.9 956.4L1550.1 960.2L1551.3 964.0L1552.5 967.8L1553.7 971.6L1554.9 975.5L1556.1 979.3L1557.3 983.1L1558.4 986.9L1559.6 990.8L1560.8 994.6L1561.9 998.4L1563.1 1002.3L1564.3 1006.1L1565.5 1009.9L1566.7 1013.7L1567.9 1017.5L1569.2 1021.3L1570.4 1025.1L1571.7 1028.9L1573.0 1032.7L1574.3 1036.5L1575.6 1040.3L1577.0 1044.0L1578.3 1047.8L1579.7 1051.5L1581.0 1055.3L1582.4 1059.0L1583.8 1062.8L1585.2 1066.5L1586.6 1070.2L1588.1 1074.0L1589.5 1077.7L1591.0 1081.4L1592.4 1085.1L1593.9 1088.9L1595.4 1092.6L1596.9 1096.3L1598.4 1100.0L1599.9 1103.7L1601.4 1107.3L1603.0 1111.0L1604.5 1114.7L1606.1 1118.4L1607.7 1122.0L1609.3 1125.7L1610.9 1129.4L1612.5 1133.0L1614.1 1136.7L1615.8 1140.3L1617.4 1144.0L1619.1 1147.6L1620.8 1151.2L1622.4 1154.8L1624.1 1158.5L1625.8 1162.1L1627.5 1165.7L1629.3 1169.3L1631.0 1172.9L1632.7 1176.5L1634.5 1180.1L1636.2 1183.7L1638.0 1187.3L1639.8 1190.9L1641.6 1194.5L1643.4 1198.0L1645.2 1201.6L1647.0 1205.2L1648.9 1208.7L1650.7 1212.3L1652.6 1215.8L1654.5 1219.4L1656.4 1222.9L1658.3 1226.4L1660.3 1230.0L1662.2 1233.5L1664.2 1237.0L1666.2 1240.5L1668.2 1243.9L1670.2 1247.4L1672.2 1250.9L1674.3 1254.3L1676.4 1257.8L1678.5 1261.2L1680.6 1264.6L1682.7 1268.0L1684.9 1271.4L1687.0 1274.8L1689.2 1278.1L1691.5 1281.5L1693.7 1284.8L1696.0 1288.0L1698.4 1291.2L1700.8 1294.4L1703.2 1297.5L1705.7 1300.6L1708.2 1303.7L1710.7 1306.7L1713.3 1309.7L1715.9 1312.7L1718.6 1315.7L1721.3 1318.7L1724.0 1321.6L1726.7 1324.5L1729.5 1327.3L1732.3 1330.2L1735.2 1332.9L1738.0 1335.7L1740.9 1338.4L1743.9 1341.1L1746.8 1343.8L1749.8 1346.4L1752.8 1348.9L1755.9 1351.5L1759.0 1354.0L1762.1 1356.5L1765.2 1358.9L1768.4 1361.3L1771.6 1363.6L1774.9 1365.9L1778.3 1368.1L1781.7 1370.1L1785.2 1372.1L1788.8 1373.9L1792.4 1375.7L1796.1 1377.3L1799.7 1379.0L1803.4 1380.6L1806.9 1382.4L1810.5 1384.2L1814.1 1385.9L1817.7 1387.7L1821.0 1389.9L1824.3 1392.2L1827.2 1395.0L1830.1 1397.8L1833.6 1399.8L1837.3 1401.3L1841.1 1402.6L1844.9 1403.9L1848.6 1405.1L1852.4 1406.3L1856.3 1407.3L1860.3 1408.2L1864.2 1409.1L1868.1 1410.1L1872.0 1411.0L1875.8 1411.9L1879.7 1412.9L1883.6 1413.9L1887.5 1414.8L1891.3 1415.8L1895.2 1416.7L1899.1 1417.6L1903.0 1418.5L1906.8 1419.3L1910.7 1420.1L1914.6 1420.9L1918.6 1421.7L1922.5 1422.4L1926.4 1423.1L1930.3 1423.8L1934.3 1424.4L1938.2 1425.1L1942.2 1425.7L1946.1 1426.2L1950.1 1426.8L1954.1 1427.3L1958.0 1427.8L1962.0 1428.3L1966.0 1428.7L1970.0 1429.1L1974.0 1429.5L1978.0 1429.9L1982.1 1430.2L1986.1 1430.5L1990.1 1430.9L1994.1 1431.2L1998.1 1431.5L2002.1 1431.9L2006.1 1432.2L2010.1 1432.5L2014.0 1432.8L2018.0 1433.1L2022.0 1433.4L2026.0 1433.7L2030.0 1433.9L2034.0 1434.2L2038.0 1434.4L2042.0 1434.7L2046.0 1434.9L2050.0 1435.1L2054.0 1435.3L2058.0 1435.5L2062.0 1435.7L2066.0 1435.8L2070.0 1436.0L2074.0 1436.2L2078.0 1436.3L2082.0 1436.5L2086.0 1436.6L2090.0 1436.7L2094.0 1436.9L2098.0 1437.0L2102.0 1437.1L2106.0 1437.3L2110.0 1437.4L2114.0 1437.5L2118.0 1437.6L2122.0 1437.7L2126.0 1437.8L2130.0 1437.9L2134.0 1438.0L2138.0 1438.1L2142.0 1438.2L2146.0 1438.2L2150.0 1438.3L2154.0 1438.4L2158.0 1438.4L2162.0 1438.5L2166.0 1438.6L2170.0 1438.6L2174.0 1438.7L2178.0 1438.7L2182.0 1438.7L2186.0 1438.8L2190.0 1438.8L2194.0 1438.8L2198.0 1438.9L2202.0 1438.9L2206.0 1438.9L2210.0 1438.9L2214.0 1438.9L2218.0 1438.9L2222.0 1439.0L2226.0 1439.0L2230.0 1439.0L2234.0 1439.0L2238.0 1439.0L2242.0 1439.0L2246.0 1439.0L2250.0 1439.0L2251.0 1439.0"/>
</g>
<g stroke="#1a1a1a" fill="none">
<path d="M1920.6 60.2 V386.3" stroke-width="3.6"/>
<path d="M1918.8 384.4 H2246.1" stroke-width="3.8"/>
</g>
<g fill="none" stroke-width="11.6" stroke-linecap="round">
<path stroke="#00ee00" d="M1937 104.0 H2083.5"/>
<path stroke="#ff0000" d="M1937 184.4 H2083.5"/>
<path stroke="#0000f0" d="M1937 265.7 H2083.5"/>
<path stroke="#8800ff" d="M1937 346.3 H2083.5"/>
</g>
<g font-size="65.5" letter-spacing="0.9">
<text x="2099.5" y="124.6">B-3</text>
<text x="2099.5" y="206.6">B-13</text>
<text x="2099.5" y="287.9">B-23</text>
<text x="2099.5" y="369.3">B-33</text>
</g>
<g font-size="68.5" letter-spacing="2.2">
<text x="539.3" y="1553.4" text-anchor="middle">400</text>
<text x="881.8" y="1553.4" text-anchor="middle">600</text>
<text x="1224.3" y="1553.4" text-anchor="middle">800</text>
<text x="1566.7" y="1553.4" text-anchor="middle">1000</text>
<text x="1909.2" y="1553.4" text-anchor="middle">1200</text>
<text x="2251.7" y="1553.4" text-anchor="middle">1400</text>
</g>
<g font-size="68.5" letter-spacing="2.2" text-anchor="end">
<text x="323.2" y="1461.9">0.0</text>
<text x="323.2" y="1248.2">0.2</text>
<text x="323.2" y="1034.5">0.4</text>
<text x="323.2" y="820.9">0.6</text>
<text x="323.2" y="607.2">0.8</text>
<text x="323.2" y="393.5">1.0</text>
<text x="323.2" y="179.8">1.2</text>
</g>
<text x="905.3" y="1709.8" font-size="112.5" textLength="808" lengthAdjust="spacing">Wavelength / nm</text>
<text transform="translate(107.4 1203.8) rotate(-90)" font-size="110" textLength="847" lengthAdjust="spacing">Absorbance / a.u.</text>
</svg></body></html>
